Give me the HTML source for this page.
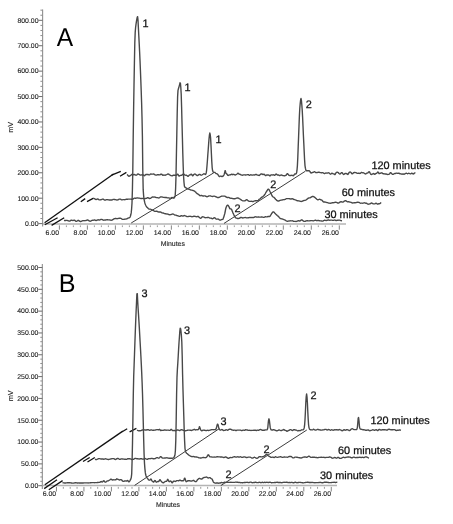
<!DOCTYPE html>
<html><head><meta charset="utf-8"><title>Chromatograms</title>
<style>
html,body{margin:0;padding:0;background:#fff;}
body{width:453px;height:524px;overflow:hidden;}
svg{display:block;}
text{font-family:"Liberation Sans",Arial,sans-serif;fill:#1a1a1a;text-rendering:geometricPrecision;}
.ax{font-size:6.9px;fill:#262626;stroke:#262626;stroke-width:0.12px;}
.lb{font-size:10.9px;fill:#111;stroke:#111;stroke-width:0.25px;}
.big{font-size:25.8px;fill:#000;}
</style></head><body>
<svg width="453" height="524" viewBox="0 0 453 524">
<rect x="0" y="0" width="453" height="524" fill="#fff"/>
<g id="panelA">
<path d="M42.6 9.5V226.6" stroke="#939393" stroke-width="1.15" fill="none"/>
<path d="M38.5 223.60H42.6M38.5 198.19H42.6M38.5 172.78H42.6M38.5 147.37H42.6M38.5 121.96H42.6M38.5 96.55H42.6M38.5 71.14H42.6M38.5 45.73H42.6M38.5 20.32H42.6" stroke="#6c6c6c" stroke-width="1" fill="none"/>
<path d="M40.4 218.52H42.6M40.4 213.44H42.6M40.4 208.35H42.6M40.4 203.27H42.6M40.4 193.11H42.6M40.4 188.03H42.6M40.4 182.94H42.6M40.4 177.86H42.6M40.4 167.70H42.6M40.4 162.62H42.6M40.4 157.53H42.6M40.4 152.45H42.6M40.4 142.29H42.6M40.4 137.21H42.6M40.4 132.12H42.6M40.4 127.04H42.6M40.4 116.88H42.6M40.4 111.80H42.6M40.4 106.71H42.6M40.4 101.63H42.6M40.4 91.47H42.6M40.4 86.39H42.6M40.4 81.30H42.6M40.4 76.22H42.6M40.4 66.06H42.6M40.4 60.98H42.6M40.4 55.89H42.6M40.4 50.81H42.6M40.4 40.65H42.6M40.4 35.57H42.6M40.4 30.48H42.6M40.4 25.40H42.6M40.4 15.24H42.6M40.4 10.16H42.6" stroke="#8e8e8e" stroke-width="1" fill="none"/>
<text x="38.5" y="225.9" class="ax" text-anchor="end">0.00</text>
<text x="38.5" y="200.5" class="ax" text-anchor="end">100.00</text>
<text x="38.5" y="175.1" class="ax" text-anchor="end">200.00</text>
<text x="38.5" y="149.7" class="ax" text-anchor="end">300.00</text>
<text x="38.5" y="124.3" class="ax" text-anchor="end">400.00</text>
<text x="38.5" y="98.8" class="ax" text-anchor="end">500.00</text>
<text x="38.5" y="73.4" class="ax" text-anchor="end">600.00</text>
<text x="38.5" y="48.0" class="ax" text-anchor="end">700.00</text>
<text x="38.5" y="22.6" class="ax" text-anchor="end">800.00</text>
<text transform="translate(12.7 127.3) rotate(-90)" class="ax" style="font-size:7.3px" text-anchor="middle">mV</text>
<path d="M42.9 224.1H346" stroke="#b4b4b4" stroke-width="1.5" fill="none"/>
<path d="M59.40 225.4V229.7M87.39 225.4V229.7M115.38 225.4V229.7M143.37 225.4V229.7M171.36 225.4V229.7M199.35 225.4V229.7M227.34 225.4V229.7M255.33 225.4V229.7M283.32 225.4V229.7M311.31 225.4V229.7M339.30 225.4V229.7" stroke="#777" stroke-width="0.9" fill="none"/>
<path d="M66.40 225.4V227.1M73.39 225.4V227.1M80.39 225.4V227.1M94.39 225.4V227.1M101.38 225.4V227.1M108.38 225.4V227.1M122.38 225.4V227.1M129.38 225.4V227.1M136.37 225.4V227.1M150.37 225.4V227.1M157.36 225.4V227.1M164.36 225.4V227.1M178.36 225.4V227.1M185.35 225.4V227.1M192.35 225.4V227.1M206.35 225.4V227.1M213.34 225.4V227.1M220.34 225.4V227.1M234.34 225.4V227.1M241.34 225.4V227.1M248.33 225.4V227.1M262.33 225.4V227.1M269.32 225.4V227.1M276.32 225.4V227.1M290.32 225.4V227.1M297.31 225.4V227.1M304.31 225.4V227.1M318.31 225.4V227.1M325.30 225.4V227.1M332.30 225.4V227.1" stroke="#8e8e8e" stroke-width="0.9" fill="none"/>
<text x="59.0" y="235.4" class="ax" text-anchor="end">6.00</text>
<text x="87.0" y="235.4" class="ax" text-anchor="end">8.00</text>
<text x="115.0" y="235.4" class="ax" text-anchor="end">10.00</text>
<text x="143.0" y="235.4" class="ax" text-anchor="end">12.00</text>
<text x="171.0" y="235.4" class="ax" text-anchor="end">14.00</text>
<text x="198.9" y="235.4" class="ax" text-anchor="end">16.00</text>
<text x="226.9" y="235.4" class="ax" text-anchor="end">18.00</text>
<text x="254.9" y="235.4" class="ax" text-anchor="end">20.00</text>
<text x="282.9" y="235.4" class="ax" text-anchor="end">22.00</text>
<text x="310.9" y="235.4" class="ax" text-anchor="end">24.00</text>
<text x="338.9" y="235.4" class="ax" text-anchor="end">26.00</text>
<text x="172.8" y="246.3" class="ax" text-anchor="middle">Minutes</text>
<path d="M44.6 222.8L113.5 174" stroke="#111" stroke-width="1.35" fill="none"/>
<path d="M44.8 224.7L57.6 217.7M51.6 225.4L64.2 217.8M80.8 201.8L85.2 198.6M87 201.6L93.6 198.2M111.6 175.1L120.8 171.3M120 176.2L126.4 172.4" stroke="#111" stroke-width="1.3" fill="none"/>
<path d="M131.2 223L213.8 172.8M224 223.4L305.4 171.2" stroke="#3c3c3c" stroke-width="1" fill="none"/>
<path d="M127.0 174.5 L127.4 174.8 L127.8 175.3 L128.2 175.7 L128.6 176.1 L129.0 176.3 L129.4 176.2 L129.8 175.9 L130.2 175.6 L130.6 175.4 L131.0 175.1 L131.4 174.7 L131.8 174.4 L132.2 174.3 L132.6 174.6 L133.0 174.9 L133.4 174.8 L133.8 174.5 L134.2 174.4 L134.6 174.6 L135.0 174.9 L135.4 175.0 L135.8 175.1 L136.2 175.2 L136.6 175.1 L137.0 174.7 L137.4 174.2 L137.8 174.0 L138.2 174.0 L138.6 174.1 L139.0 174.4 L139.4 174.6 L139.8 174.8 L140.2 175.0 L140.6 175.1 L141.0 175.1 L141.4 174.9 L141.8 174.8 L142.2 174.9 L142.6 175.0 L143.0 174.9 L143.4 175.0 L143.8 175.3 L144.2 175.6 L144.6 175.7 L145.0 175.3 L145.4 174.8 L145.8 174.5 L146.2 174.4 L146.6 174.5 L147.0 174.6 L147.4 174.4 L147.8 174.4 L148.2 174.5 L148.6 174.8 L149.0 174.9 L149.4 174.8 L149.8 174.6 L150.2 174.3 L150.6 174.0 L151.0 174.0 L151.4 174.1 L151.8 174.2 L152.2 174.1 L152.6 174.1 L153.0 174.1 L153.4 174.0 L153.8 174.0 L154.2 174.2 L154.6 174.6 L155.0 174.8 L155.4 174.9 L155.8 175.1 L156.2 175.2 L156.6 175.0 L157.0 174.8 L157.4 174.6 L157.8 174.7 L158.2 174.8 L158.6 174.8 L159.0 174.8 L159.4 174.9 L159.8 174.9 L160.2 174.7 L160.6 174.4 L161.0 174.1 L161.4 174.1 L161.8 174.3 L162.2 174.8 L162.6 175.2 L163.0 175.4 L163.4 175.2 L163.8 175.0 L164.2 175.1 L164.6 175.2 L165.0 175.3 L165.4 175.1 L165.8 174.9 L166.2 174.8 L166.6 174.7 L167.0 174.5 L167.4 174.2 L167.8 174.0 L168.2 174.0 L168.6 174.1 L169.0 174.4 L169.4 174.7 L169.8 175.0 L170.2 175.2 L170.6 175.4 L171.0 175.6 L171.4 175.7 L171.8 175.8 L172.2 175.9 L172.6 175.7 L173.0 175.4 L173.4 175.2 L173.8 175.2 L174.2 175.3 L174.6 175.3 L175.0 175.3 L175.4 175.2 L175.8 175.2 L176.2 175.2 L176.6 175.1 L177.0 174.6 L177.4 174.2 L177.8 174.2 L178.2 174.7 L178.6 175.6 L179.0 176.1 L179.4 176.0 L179.8 175.7 L180.2 175.5 L180.6 175.4 L181.0 175.3 L181.4 175.2 L181.8 175.2 L182.2 175.0 L182.6 174.6 L183.0 174.2 L183.4 174.0 L183.8 174.2 L184.2 174.4 L184.6 174.8 L185.0 175.1 L185.4 175.2 L185.8 175.3 L186.2 175.3 L186.6 175.3 L187.0 175.5 L187.4 175.9 L187.8 176.3 L188.2 176.3 L188.6 175.9 L189.0 175.4 L189.4 175.0 L189.8 174.9 L190.2 174.9 L190.6 174.6 L191.0 174.2 L191.4 174.1 L191.8 174.6 L192.2 175.4 L192.6 175.8 L193.0 175.6 L193.4 175.0 L193.8 174.5 L194.2 174.2 L194.6 174.1 L195.0 174.0 L195.4 174.2 L195.8 174.5 L196.2 174.9 L196.6 175.2 L197.0 175.5 L197.4 175.6 L197.8 175.4 L198.2 175.1 L198.6 174.8 L199.0 174.5 L199.4 174.4 L199.8 174.4 L200.2 174.6 L200.6 174.9 L201.0 175.1 L201.4 175.2 L201.8 175.0 L202.2 174.8 L202.6 174.5 L203.0 174.3 L203.4 174.0 L203.8 173.8 L204.2 173.8 L204.6 174.0 L205.0 174.3 L205.4 174.5 L205.8 174.0 L206.2 172.9 L206.6 170.3 L207.0 165.8 L207.4 160.7 L207.8 155.0 L208.2 149.7 L208.6 144.4 L209.0 139.1 L209.4 135.2 L209.8 133.0 L210.2 134.5 L210.6 137.9 L211.0 145.3 L211.4 153.8 L211.8 161.9 L212.2 168.0 L212.6 170.6 L213.0 171.7 L213.4 172.2 L213.8 172.4 L214.2 172.4 L214.6 172.3 L215.0 172.4 L215.4 172.9 L215.8 173.3 L216.2 173.6 L216.6 173.7 L217.0 173.8 L217.4 174.1 L217.8 174.5 L218.2 175.0 L218.6 175.7 L219.0 176.3 L219.4 176.6 L219.8 176.5 L220.2 176.2 L220.6 176.1 L221.0 176.2 L221.4 176.4 L221.8 176.5 L222.2 176.5 L222.6 176.4 L223.0 176.2 L223.4 175.8 L223.8 175.1 L224.2 174.2 L224.6 173.0 L225.0 170.8 L225.4 170.8 L225.8 172.8 L226.2 173.5 L226.6 173.7 L227.0 174.2 L227.4 174.7 L227.8 175.3 L228.2 175.5 L228.6 175.3 L229.0 175.1 L229.4 174.9 L229.8 174.9 L230.2 174.8 L230.6 174.8 L231.0 174.6 L231.4 174.3 L231.8 174.1 L232.2 174.4 L232.6 174.7 L233.0 174.6 L233.4 174.4 L233.8 174.3 L234.2 174.5 L234.6 174.8 L235.0 175.0 L235.4 175.0 L235.8 174.8 L236.2 174.5 L236.6 174.3 L237.0 174.0 L237.4 173.7 L237.8 173.3 L238.2 173.3 L238.6 173.7 L239.0 174.1 L239.4 174.2 L239.8 174.2 L240.2 174.3 L240.6 174.6 L241.0 174.8 L241.4 175.0 L241.8 175.1 L242.2 175.2 L242.6 175.2 L243.0 175.0 L243.4 174.9 L243.8 174.9 L244.2 174.9 L244.6 174.8 L245.0 174.9 L245.4 175.0 L245.8 175.0 L246.2 174.9 L246.6 174.9 L247.0 174.8 L247.4 174.7 L247.8 174.6 L248.2 174.6 L248.6 174.7 L249.0 175.1 L249.4 175.4 L249.8 175.3 L250.2 175.0 L250.6 174.8 L251.0 174.8 L251.4 174.9 L251.8 175.1 L252.2 175.1 L252.6 175.1 L253.0 175.0 L253.4 174.9 L253.8 174.9 L254.2 175.0 L254.6 175.0 L255.0 174.8 L255.4 174.6 L255.8 174.4 L256.2 174.4 L256.6 174.6 L257.0 174.9 L257.4 175.1 L257.8 175.1 L258.2 175.1 L258.6 175.3 L259.0 175.5 L259.4 175.4 L259.8 175.0 L260.2 174.6 L260.6 174.2 L261.0 174.0 L261.4 173.9 L261.8 173.9 L262.2 174.1 L262.6 174.4 L263.0 174.6 L263.4 174.5 L263.8 174.2 L264.2 174.2 L264.6 174.5 L265.0 175.2 L265.4 175.6 L265.8 175.6 L266.2 175.3 L266.6 175.0 L267.0 175.0 L267.4 175.0 L267.8 175.0 L268.2 175.0 L268.6 175.0 L269.0 175.2 L269.4 175.6 L269.8 175.9 L270.2 175.8 L270.6 175.3 L271.0 174.9 L271.4 174.8 L271.8 174.9 L272.2 175.0 L272.6 174.9 L273.0 174.8 L273.4 174.7 L273.8 175.0 L274.2 175.3 L274.6 175.4 L275.0 175.1 L275.4 174.6 L275.8 174.2 L276.2 174.0 L276.6 174.3 L277.0 174.7 L277.4 175.0 L277.8 175.0 L278.2 174.9 L278.6 175.0 L279.0 175.3 L279.4 175.6 L279.8 175.6 L280.2 175.4 L280.6 175.2 L281.0 175.1 L281.4 175.0 L281.8 175.1 L282.2 175.3 L282.6 175.5 L283.0 175.6 L283.4 175.6 L283.8 175.7 L284.2 175.9 L284.6 175.9 L285.0 175.7 L285.4 175.5 L285.8 175.4 L286.2 175.1 L286.6 174.5 L287.0 173.9 L287.4 173.7 L287.8 173.9 L288.2 174.3 L288.6 174.9 L289.0 175.3 L289.4 175.5 L289.8 175.4 L290.2 175.5 L290.6 175.6 L291.0 175.5 L291.4 175.3 L291.8 175.2 L292.2 175.3 L292.6 175.6 L293.0 175.7 L293.4 175.7 L293.8 175.4 L294.2 174.7 L294.6 174.1 L295.0 173.9 L295.4 174.0 L295.8 174.0 L296.2 173.6 L296.6 172.8 L297.0 170.2 L297.4 165.6 L297.8 157.5 L298.2 146.6 L298.6 136.6 L299.0 126.0 L299.4 115.9 L299.8 108.2 L300.2 103.6 L300.6 100.0 L301.0 98.5 L301.4 100.4 L301.8 104.6 L302.2 109.7 L302.6 117.1 L303.0 126.0 L303.4 135.2 L303.8 143.4 L304.2 151.9 L304.6 160.0 L305.0 165.6 L305.4 168.2 L305.8 169.9 L306.2 170.6 L306.6 170.8 L307.0 170.8 L307.4 170.7 L307.8 170.7 L308.2 170.7 L308.6 170.7 L309.0 170.7 L309.4 170.9 L309.8 171.4 L310.2 172.0 L310.6 172.6 L311.0 173.0 L311.4 173.0 L311.8 172.8 L312.2 172.6 L312.6 172.4 L313.0 172.4 L313.4 172.3 L313.8 172.0 L314.2 171.7 L314.6 171.7 L315.0 172.0 L315.4 172.3 L315.8 172.6 L316.2 172.7 L316.6 172.6 L317.0 172.5 L317.4 172.5 L317.8 172.4 L318.2 172.3 L318.6 172.1 L319.0 172.1 L319.4 172.3 L319.8 172.5 L320.2 172.6 L320.6 172.6 L321.0 172.7 L321.4 172.9 L321.8 172.9 L322.2 172.7 L322.6 172.6 L323.0 172.7 L323.4 173.0 L323.8 173.3 L324.2 173.5 L324.6 173.6 L325.0 173.4 L325.4 173.2 L325.8 173.0 L326.2 173.0 L326.6 173.1 L327.0 173.1 L327.4 173.1 L327.8 172.9 L328.2 172.8 L328.6 172.8 L329.0 172.9 L329.4 173.3 L329.8 173.7 L330.2 174.0 L330.6 174.2 L331.0 174.0 L331.4 173.6 L331.8 173.2 L332.2 173.2 L332.6 173.5 L333.0 173.8 L333.4 173.9 L333.8 173.9 L334.2 174.1 L334.6 174.5 L335.0 174.5 L335.4 174.0 L335.8 173.2 L336.2 172.6 L336.6 172.3 L337.0 172.2 L337.4 172.2 L337.8 172.3 L338.2 172.5 L338.6 173.0 L339.0 173.5 L339.4 173.8 L339.8 174.0 L340.2 173.9 L340.6 173.6 L341.0 173.1 L341.4 172.7 L341.8 172.6 L342.2 172.8 L342.6 173.3 L343.0 173.9 L343.4 174.4 L343.8 174.5 L344.2 174.2 L344.6 173.8 L345.0 173.5 L345.4 173.5 L345.8 173.5 L346.2 173.5 L346.6 173.6 L347.0 173.9 L347.4 174.3 L347.8 174.5 L348.2 174.1 L348.6 173.4 L349.0 172.7 L349.4 172.2 L349.8 172.1 L350.2 172.0 L350.6 172.2 L351.0 172.5 L351.4 173.1 L351.8 173.7 L352.2 173.9 L352.6 173.7 L353.0 173.2 L353.4 172.9 L353.8 172.6 L354.2 172.5 L354.6 172.4 L355.0 172.5 L355.4 172.6 L355.8 172.6 L356.2 172.7 L356.6 173.0 L357.0 173.3 L357.4 173.4 L357.8 173.3 L358.2 173.3 L358.6 173.3 L359.0 173.3 L359.4 173.3 L359.8 173.5 L360.2 173.4 L360.6 173.1 L361.0 172.7 L361.4 172.4 L361.8 172.5 L362.2 172.7 L362.6 172.8 L363.0 172.8 L363.4 172.8 L363.8 173.0 L364.2 173.2 L364.6 173.5 L365.0 173.8 L365.4 174.0 L365.8 173.9 L366.2 173.5 L366.6 173.2 L367.0 173.1 L367.4 173.1 L367.8 172.9 L368.2 172.5 L368.6 172.0 L369.0 171.7 L369.4 171.9 L369.8 172.5 L370.2 173.3 L370.6 174.0 L371.0 174.4 L371.4 174.5 L371.8 174.4 L372.2 174.2 L372.6 174.0 L373.0 173.7 L373.4 173.5 L373.8 173.6 L374.2 173.9 L374.6 174.3 L375.0 174.3 L375.4 174.0 L375.8 173.6 L376.2 173.4 L376.6 173.3 L377.0 172.9 L377.4 172.3 L377.8 172.0 L378.2 172.2 L378.6 172.9 L379.0 173.5 L379.4 173.6 L379.8 173.3 L380.2 173.2 L380.6 173.2 L381.0 173.0 L381.4 172.9 L381.8 172.8 L382.2 173.1 L382.6 173.5 L383.0 173.8 L383.4 173.8 L383.8 173.8 L384.2 173.8 L384.6 173.9 L385.0 174.0 L385.4 174.0 L385.8 174.0 L386.2 174.0 L386.6 174.1 L387.0 174.3 L387.4 174.4 L387.8 174.5 L388.2 174.4 L388.6 174.4 L389.0 174.3 L389.4 174.0 L389.8 173.5 L390.2 172.9 L390.6 172.6 L391.0 172.8 L391.4 173.3 L391.8 173.7 L392.2 174.1 L392.6 174.3 L393.0 174.4 L393.4 174.3 L393.8 174.0 L394.2 173.7 L394.6 173.5 L395.0 173.5 L395.4 173.5 L395.8 173.4 L396.2 173.2 L396.6 173.1 L397.0 173.1 L397.4 173.3 L397.8 173.4 L398.2 173.4 L398.6 173.2 L399.0 173.2 L399.4 173.4 L399.8 173.8 L400.2 173.9 L400.6 173.8 L401.0 173.8 L401.4 174.0 L401.8 174.2 L402.2 174.2 L402.6 174.0 L403.0 173.9 L403.4 174.0 L403.8 174.3 L404.2 174.3 L404.6 174.0 L405.0 173.7 L405.4 173.5 L405.8 173.5 L406.2 173.3 L406.6 173.3 L407.0 173.5 L407.4 173.7 L407.8 173.7 L408.2 173.5 L408.6 173.3 L409.0 173.3 L409.4 173.5 L409.8 173.7 L410.2 173.8 L410.6 173.9 L411.0 173.7 L411.4 173.4 L411.8 173.2 L412.2 173.3 L412.6 173.6 L413.0 173.9 L413.4 174.0 L413.8 173.8 L414.2 173.3 L414.6 173.0 L415.0 173.0 L415.4 173.3" fill="none" stroke="#484848" stroke-width="1.38" stroke-linejoin="round"/>
<path d="M93.6 198.4 L94.0 198.5 L94.4 198.7 L94.8 198.9 L95.2 199.2 L95.6 199.4 L96.0 199.5 L96.4 199.5 L96.8 199.3 L97.2 199.1 L97.6 199.0 L98.0 199.0 L98.4 199.3 L98.8 199.6 L99.2 199.8 L99.6 199.9 L100.0 199.9 L100.4 199.8 L100.8 199.8 L101.2 199.7 L101.6 199.6 L102.0 199.4 L102.4 199.2 L102.8 199.1 L103.2 199.2 L103.6 199.4 L104.0 199.7 L104.4 200.0 L104.8 200.1 L105.2 200.1 L105.6 200.0 L106.0 199.9 L106.4 199.7 L106.8 199.6 L107.2 199.6 L107.6 199.7 L108.0 199.7 L108.4 199.8 L108.8 199.9 L109.2 200.0 L109.6 200.0 L110.0 200.0 L110.4 200.0 L110.8 200.0 L111.2 200.0 L111.6 200.0 L112.0 200.0 L112.4 199.8 L112.8 199.6 L113.2 199.4 L113.6 199.4 L114.0 199.4 L114.4 199.5 L114.8 199.5 L115.2 199.6 L115.6 199.7 L116.0 199.8 L116.4 199.9 L116.8 200.0 L117.2 200.0 L117.6 199.9 L118.0 199.8 L118.4 199.6 L118.8 199.4 L119.2 199.2 L119.6 199.1 L120.0 199.1 L120.4 199.2 L120.8 199.4 L121.2 199.6 L121.6 199.8 L122.0 199.9 L122.4 199.8 L122.8 199.7 L123.2 199.6 L123.6 199.6 L124.0 199.6 L124.4 199.7 L124.8 199.7 L125.2 199.6 L125.6 199.5 L126.0 199.3 L126.4 199.3 L126.8 199.3 L127.2 199.3 L127.6 199.3 L128.0 199.2 L128.4 199.1 L128.8 199.1 L129.2 199.1 L129.6 199.1 L130.0 199.1 L130.4 199.1 L130.8 199.1 L131.2 199.2 L131.6 199.2 L132.0 199.3 L132.4 199.3 L132.8 199.2 L133.2 198.9 L133.6 198.6 L134.0 198.4 L134.4 198.2 L134.8 198.1 L135.2 198.2 L135.6 198.2 L136.0 198.2 L136.4 198.1 L136.8 198.0 L137.2 197.9 L137.6 197.9 L138.0 198.0 L138.4 198.1 L138.8 198.1 L139.2 198.1 L139.6 198.2 L140.0 198.3 L140.4 198.4 L140.8 198.5 L141.2 198.6 L141.6 198.5 L142.0 198.5 L142.4 198.4 L142.8 198.4 L143.2 198.5 L143.6 198.6 L144.0 198.6 L144.4 198.6 L144.8 198.6 L145.2 198.5 L145.6 198.5 L146.0 198.4 L146.4 198.3 L146.8 198.1 L147.2 197.9 L147.6 197.7 L148.0 197.7 L148.4 197.8 L148.8 198.1 L149.2 198.4 L149.6 198.5 L150.0 198.5 L150.4 198.3 L150.8 198.1 L151.2 197.8 L151.6 197.5 L152.0 197.2 L152.4 197.0 L152.8 196.9 L153.2 197.0 L153.6 197.1 L154.0 197.1 L154.4 197.1 L154.8 197.0 L155.2 197.1 L155.6 197.3 L156.0 197.5 L156.4 197.6 L156.8 197.6 L157.2 197.6 L157.6 197.7 L158.0 197.8 L158.4 197.9 L158.8 198.0 L159.2 197.8 L159.6 197.6 L160.0 197.3 L160.4 197.0 L160.8 196.9 L161.2 196.9 L161.6 196.9 L162.0 197.0 L162.4 197.1 L162.8 197.2 L163.2 197.3 L163.6 197.4 L164.0 197.4 L164.4 197.4 L164.8 197.5 L165.2 197.5 L165.6 197.5 L166.0 197.5 L166.4 197.5 L166.8 197.6 L167.2 197.8 L167.6 197.9 L168.0 197.9 L168.4 197.8 L168.8 197.9 L169.2 198.0 L169.6 198.2 L170.0 198.3 L170.4 198.2 L170.8 198.0 L171.2 197.8 L171.6 197.6 L172.0 197.5 L172.4 197.6 L172.8 197.7 L173.2 198.0 L173.6 198.2 L174.0 198.1 L174.4 197.7 L174.8 196.8 L175.2 195.4 L175.6 188.7 L176.0 176.2 L176.4 155.0 L176.8 134.8 L177.2 113.6 L177.6 96.9 L178.0 90.4 L178.4 88.8 L178.8 87.5 L179.2 86.1 L179.6 84.6 L180.0 82.8 L180.4 83.0 L180.8 87.2 L181.2 94.0 L181.6 106.9 L182.0 122.7 L182.4 137.7 L182.8 153.5 L183.2 166.2 L183.6 176.7 L184.0 182.5 L184.4 186.1 L184.8 187.0 L185.2 187.4 L185.6 187.7 L186.0 187.9 L186.4 188.1 L186.8 188.3 L187.2 188.6 L187.6 188.8 L188.0 189.0 L188.4 189.1 L188.8 189.2 L189.2 189.2 L189.6 189.4 L190.0 189.6 L190.4 189.8 L190.8 190.0 L191.2 190.1 L191.6 190.1 L192.0 190.2 L192.4 190.3 L192.8 190.4 L193.2 190.6 L193.6 190.7 L194.0 190.9 L194.4 191.1 L194.8 191.3 L195.2 191.7 L195.6 192.0 L196.0 192.5 L196.4 192.9 L196.8 193.4 L197.2 193.7 L197.6 193.9 L198.0 194.1 L198.4 194.3 L198.8 194.6 L199.2 195.1 L199.6 195.5 L200.0 195.8 L200.4 195.7 L200.8 195.5 L201.2 195.4 L201.6 195.4 L202.0 195.6 L202.4 195.8 L202.8 196.0 L203.2 196.0 L203.6 196.0 L204.0 195.9 L204.4 195.9 L204.8 195.9 L205.2 196.0 L205.6 196.1 L206.0 196.4 L206.4 196.5 L206.8 196.7 L207.2 196.7 L207.6 196.6 L208.0 196.4 L208.4 196.1 L208.8 196.0 L209.2 195.9 L209.6 195.9 L210.0 195.9 L210.4 195.9 L210.8 196.0 L211.2 196.2 L211.6 196.3 L212.0 196.4 L212.4 196.5 L212.8 196.4 L213.2 196.3 L213.6 196.2 L214.0 196.1 L214.4 196.2 L214.8 196.3 L215.2 196.5 L215.6 196.6 L216.0 196.8 L216.4 196.9 L216.8 197.2 L217.2 197.4 L217.6 197.6 L218.0 197.6 L218.4 197.5 L218.8 197.5 L219.2 197.4 L219.6 197.2 L220.0 197.0 L220.4 196.7 L220.8 196.5 L221.2 196.3 L221.6 196.1 L222.0 196.1 L222.4 196.1 L222.8 196.1 L223.2 196.1 L223.6 196.1 L224.0 196.1 L224.4 196.1 L224.8 196.2 L225.2 196.4 L225.6 196.6 L226.0 196.9 L226.4 197.2 L226.8 197.4 L227.2 197.5 L227.6 197.5 L228.0 197.4 L228.4 197.4 L228.8 197.5 L229.2 197.6 L229.6 197.9 L230.0 198.1 L230.4 198.2 L230.8 198.2 L231.2 198.3 L231.6 198.3 L232.0 198.4 L232.4 198.5 L232.8 198.6 L233.2 198.7 L233.6 198.8 L234.0 198.8 L234.4 198.8 L234.8 198.8 L235.2 198.7 L235.6 198.6 L236.0 198.4 L236.4 198.2 L236.8 198.1 L237.2 198.0 L237.6 197.9 L238.0 198.0 L238.4 198.1 L238.8 198.3 L239.2 198.6 L239.6 198.8 L240.0 199.0 L240.4 199.3 L240.8 199.6 L241.2 199.9 L241.6 200.2 L242.0 200.5 L242.4 200.7 L242.8 200.8 L243.2 200.9 L243.6 200.9 L244.0 200.9 L244.4 200.9 L244.8 200.9 L245.2 200.7 L245.6 200.4 L246.0 200.0 L246.4 199.7 L246.8 199.7 L247.2 199.9 L247.6 200.3 L248.0 200.6 L248.4 200.9 L248.8 201.1 L249.2 201.3 L249.6 201.4 L250.0 201.4 L250.4 201.4 L250.8 201.3 L251.2 201.3 L251.6 201.3 L252.0 201.4 L252.4 201.5 L252.8 201.6 L253.2 201.5 L253.6 201.4 L254.0 201.2 L254.4 201.0 L254.8 200.8 L255.2 200.7 L255.6 200.7 L256.0 200.7 L256.4 200.7 L256.8 200.8 L257.2 200.8 L257.6 200.8 L258.0 200.6 L258.4 200.2 L258.8 199.7 L259.2 199.3 L259.6 199.0 L260.0 198.8 L260.4 198.5 L260.8 198.1 L261.2 197.7 L261.6 197.4 L262.0 197.1 L262.4 196.8 L262.8 196.6 L263.2 196.3 L263.6 196.0 L264.0 195.5 L264.4 195.0 L264.8 194.5 L265.2 193.8 L265.6 193.0 L266.0 192.3 L266.4 191.7 L266.8 191.1 L267.2 190.5 L267.6 189.8 L268.0 189.3 L268.4 189.1 L268.8 189.3 L269.2 189.9 L269.6 190.7 L270.0 191.5 L270.4 192.2 L270.8 193.0 L271.2 193.9 L271.6 194.8 L272.0 195.7 L272.4 196.3 L272.8 196.7 L273.2 197.0 L273.6 197.2 L274.0 197.4 L274.4 197.8 L274.8 198.2 L275.2 198.7 L275.6 199.2 L276.0 199.6 L276.4 200.0 L276.8 200.4 L277.2 200.7 L277.6 200.9 L278.0 201.0 L278.4 201.1 L278.8 200.9 L279.2 200.8 L279.6 200.6 L280.0 200.4 L280.4 200.3 L280.8 200.2 L281.2 200.1 L281.6 200.1 L282.0 200.0 L282.4 199.9 L282.8 199.8 L283.2 199.6 L283.6 199.6 L284.0 199.6 L284.4 199.6 L284.8 199.5 L285.2 199.3 L285.6 199.1 L286.0 198.8 L286.4 198.7 L286.8 198.6 L287.2 198.6 L287.6 198.6 L288.0 198.6 L288.4 198.6 L288.8 198.6 L289.2 198.7 L289.6 198.7 L290.0 198.8 L290.4 199.0 L290.8 199.0 L291.2 199.0 L291.6 198.9 L292.0 198.7 L292.4 198.7 L292.8 198.8 L293.2 199.1 L293.6 199.4 L294.0 199.5 L294.4 199.6 L294.8 199.7 L295.2 199.8 L295.6 200.0 L296.0 200.2 L296.4 200.4 L296.8 200.6 L297.2 200.7 L297.6 200.7 L298.0 200.7 L298.4 200.8 L298.8 200.9 L299.2 201.0 L299.6 201.1 L300.0 201.2 L300.4 201.3 L300.8 201.4 L301.2 201.5 L301.6 201.4 L302.0 201.3 L302.4 201.1 L302.8 200.9 L303.2 200.8 L303.6 200.6 L304.0 200.5 L304.4 200.4 L304.8 200.4 L305.2 200.3 L305.6 200.2 L306.0 200.0 L306.4 199.7 L306.8 199.4 L307.2 199.0 L307.6 198.7 L308.0 198.4 L308.4 198.1 L308.8 198.0 L309.2 197.9 L309.6 197.9 L310.0 197.9 L310.4 197.7 L310.8 197.4 L311.2 197.1 L311.6 196.8 L312.0 196.6 L312.4 196.4 L312.8 196.4 L313.2 196.5 L313.6 196.6 L314.0 196.8 L314.4 197.1 L314.8 197.4 L315.2 197.7 L315.6 198.1 L316.0 198.4 L316.4 198.8 L316.8 199.2 L317.2 199.5 L317.6 199.8 L318.0 199.9 L318.4 199.7 L318.8 199.5 L319.2 199.3 L319.6 199.3 L320.0 199.4 L320.4 199.6 L320.8 199.8 L321.2 199.9 L321.6 200.0 L322.0 200.3 L322.4 200.7 L322.8 201.3 L323.2 201.7 L323.6 202.0 L324.0 202.0 L324.4 202.0 L324.8 202.0 L325.2 202.0 L325.6 202.2 L326.0 202.3 L326.4 202.4 L326.8 202.5 L327.2 202.6 L327.6 202.7 L328.0 202.8 L328.4 203.0 L328.8 203.1 L329.2 203.1 L329.6 203.2 L330.0 203.3 L330.4 203.3 L330.8 203.2 L331.2 203.1 L331.6 203.0 L332.0 202.8 L332.4 202.8 L332.8 202.7 L333.2 202.7 L333.6 202.7 L334.0 202.6 L334.4 202.5 L334.8 202.4 L335.2 202.3 L335.6 202.3 L336.0 202.3 L336.4 202.4 L336.8 202.5 L337.2 202.7 L337.6 203.0 L338.0 203.1 L338.4 203.1 L338.8 202.9 L339.2 202.7 L339.6 202.4 L340.0 202.1 L340.4 201.8 L340.8 201.7 L341.2 201.7 L341.6 201.9 L342.0 202.0 L342.4 202.1 L342.8 202.1 L343.2 202.0 L343.6 201.7 L344.0 201.4 L344.4 201.0 L344.8 200.8 L345.2 200.7 L345.6 200.7 L346.0 200.8 L346.4 201.1 L346.8 201.5 L347.2 201.7 L347.6 201.9 L348.0 201.8 L348.4 201.8 L348.8 201.8 L349.2 201.9 L349.6 202.0 L350.0 202.1 L350.4 202.2 L350.8 202.3 L351.2 202.4 L351.6 202.6 L352.0 202.8 L352.4 203.0 L352.8 203.0 L353.2 202.9 L353.6 202.8 L354.0 202.7 L354.4 202.7 L354.8 202.7 L355.2 202.7 L355.6 202.7 L356.0 202.6 L356.4 202.5 L356.8 202.4 L357.2 202.3 L357.6 202.3 L358.0 202.3 L358.4 202.3 L358.8 202.4 L359.2 202.5 L359.6 202.7 L360.0 203.0 L360.4 203.2 L360.8 203.3 L361.2 203.2 L361.6 203.1 L362.0 203.1 L362.4 203.2 L362.8 203.3 L363.2 203.2 L363.6 203.0 L364.0 202.8 L364.4 202.8 L364.8 202.9 L365.2 203.0 L365.6 203.2 L366.0 203.2 L366.4 203.2 L366.8 203.4 L367.2 203.7 L367.6 204.0 L368.0 204.2 L368.4 204.2 L368.8 204.1 L369.2 204.0 L369.6 203.9 L370.0 203.8 L370.4 203.6 L370.8 203.3 L371.2 203.1 L371.6 203.0 L372.0 203.1 L372.4 203.4 L372.8 203.6 L373.2 203.8 L373.6 203.9 L374.0 203.9 L374.4 203.9 L374.8 203.8 L375.2 203.6 L375.6 203.3 L376.0 203.2 L376.4 203.3 L376.8 203.6 L377.2 204.0 L377.6 204.2 L378.0 204.1 L378.4 203.9 L378.8 203.7 L379.2 203.7 L379.6 203.7 L380.0 203.6 L380.4 203.2 L380.8 202.8 L381.2 202.4" fill="none" stroke="#484848" stroke-width="1.38" stroke-linejoin="round"/>
<path d="M64.0 220.4 L64.4 220.5 L64.8 220.5 L65.2 220.5 L65.6 220.5 L66.0 220.4 L66.4 220.4 L66.8 220.4 L67.2 220.5 L67.6 220.6 L68.0 220.7 L68.4 220.8 L68.8 221.0 L69.2 221.1 L69.6 221.1 L70.0 221.0 L70.4 220.7 L70.8 220.4 L71.2 220.2 L71.6 220.2 L72.0 220.3 L72.4 220.4 L72.8 220.5 L73.2 220.5 L73.6 220.3 L74.0 220.2 L74.4 220.2 L74.8 220.4 L75.2 220.7 L75.6 221.1 L76.0 221.3 L76.4 221.4 L76.8 221.2 L77.2 221.0 L77.6 220.7 L78.0 220.4 L78.4 220.3 L78.8 220.5 L79.2 220.9 L79.6 221.2 L80.0 221.4 L80.4 221.5 L80.8 221.5 L81.2 221.4 L81.6 221.2 L82.0 221.0 L82.4 220.8 L82.8 220.6 L83.2 220.6 L83.6 220.7 L84.0 220.8 L84.4 220.7 L84.8 220.6 L85.2 220.6 L85.6 220.6 L86.0 220.5 L86.4 220.4 L86.8 220.2 L87.2 220.0 L87.6 220.0 L88.0 220.1 L88.4 220.4 L88.8 220.7 L89.2 220.9 L89.6 221.1 L90.0 221.2 L90.4 221.2 L90.8 221.0 L91.2 220.8 L91.6 220.6 L92.0 220.4 L92.4 220.3 L92.8 220.3 L93.2 220.3 L93.6 220.2 L94.0 220.0 L94.4 220.0 L94.8 220.0 L95.2 220.2 L95.6 220.4 L96.0 220.5 L96.4 220.5 L96.8 220.3 L97.2 220.1 L97.6 219.9 L98.0 219.8 L98.4 219.8 L98.8 220.0 L99.2 220.1 L99.6 220.0 L100.0 219.8 L100.4 219.6 L100.8 219.5 L101.2 219.4 L101.6 219.4 L102.0 219.5 L102.4 219.7 L102.8 219.9 L103.2 220.1 L103.6 220.2 L104.0 220.2 L104.4 220.1 L104.8 220.0 L105.2 220.0 L105.6 220.0 L106.0 219.9 L106.4 219.8 L106.8 219.7 L107.2 219.7 L107.6 219.7 L108.0 219.8 L108.4 219.9 L108.8 219.9 L109.2 219.9 L109.6 219.9 L110.0 220.0 L110.4 220.1 L110.8 220.2 L111.2 220.2 L111.6 220.2 L112.0 220.1 L112.4 219.9 L112.8 219.6 L113.2 219.4 L113.6 219.2 L114.0 218.9 L114.4 218.7 L114.8 218.6 L115.2 218.5 L115.6 218.4 L116.0 218.5 L116.4 218.6 L116.8 218.7 L117.2 218.7 L117.6 218.6 L118.0 218.5 L118.4 218.4 L118.8 218.3 L119.2 218.3 L119.6 218.3 L120.0 218.2 L120.4 218.2 L120.8 218.3 L121.2 218.5 L121.6 218.8 L122.0 219.1 L122.4 219.3 L122.8 219.4 L123.2 219.4 L123.6 219.4 L124.0 219.3 L124.4 219.3 L124.8 219.2 L125.2 219.1 L125.6 219.1 L126.0 219.0 L126.4 218.9 L126.8 218.8 L127.2 218.6 L127.6 218.4 L128.0 218.2 L128.4 218.0 L128.8 217.9 L129.2 217.8 L129.6 217.7 L130.0 217.1 L130.4 216.2 L130.8 214.8 L131.2 212.9 L131.6 209.0 L132.0 203.0 L132.4 190.3 L132.8 170.0 L133.2 137.8 L133.6 109.7 L134.0 85.5 L134.4 63.2 L134.8 43.0 L135.2 32.4 L135.6 27.5 L136.0 24.3 L136.4 21.7 L136.8 19.3 L137.2 17.4 L137.6 16.6 L138.0 20.1 L138.4 27.9 L138.8 35.8 L139.2 43.4 L139.6 51.5 L140.0 60.3 L140.4 69.7 L140.8 80.0 L141.2 90.7 L141.6 102.6 L142.0 116.9 L142.4 135.9 L142.8 170.7 L143.2 189.9 L143.6 195.4 L144.0 198.8 L144.4 201.0 L144.8 202.7 L145.2 204.0 L145.6 205.0 L146.0 205.8 L146.4 206.5 L146.8 207.0 L147.2 207.4 L147.6 207.8 L148.0 208.2 L148.4 208.6 L148.8 208.9 L149.2 209.1 L149.6 209.2 L150.0 209.1 L150.4 209.2 L150.8 209.3 L151.2 209.5 L151.6 209.7 L152.0 209.9 L152.4 210.1 L152.8 210.3 L153.2 210.5 L153.6 210.7 L154.0 211.0 L154.4 211.2 L154.8 211.4 L155.2 211.4 L155.6 211.3 L156.0 211.2 L156.4 211.2 L156.8 211.2 L157.2 211.4 L157.6 211.6 L158.0 211.8 L158.4 212.0 L158.8 212.0 L159.2 212.0 L159.6 212.0 L160.0 211.9 L160.4 212.0 L160.8 212.1 L161.2 212.3 L161.6 212.6 L162.0 212.8 L162.4 212.9 L162.8 213.0 L163.2 213.0 L163.6 213.1 L164.0 213.3 L164.4 213.5 L164.8 213.7 L165.2 213.7 L165.6 213.7 L166.0 213.8 L166.4 213.9 L166.8 214.0 L167.2 214.0 L167.6 214.1 L168.0 214.2 L168.4 214.4 L168.8 214.6 L169.2 214.7 L169.6 214.8 L170.0 214.8 L170.4 214.7 L170.8 214.6 L171.2 214.5 L171.6 214.3 L172.0 214.2 L172.4 214.1 L172.8 214.0 L173.2 214.1 L173.6 214.2 L174.0 214.5 L174.4 214.8 L174.8 215.0 L175.2 215.1 L175.6 215.1 L176.0 215.2 L176.4 215.4 L176.8 215.6 L177.2 215.7 L177.6 215.8 L178.0 215.8 L178.4 216.0 L178.8 216.2 L179.2 216.4 L179.6 216.4 L180.0 216.3 L180.4 216.1 L180.8 215.8 L181.2 215.7 L181.6 215.7 L182.0 215.8 L182.4 216.0 L182.8 216.1 L183.2 216.0 L183.6 215.9 L184.0 215.7 L184.4 215.5 L184.8 215.6 L185.2 215.8 L185.6 216.0 L186.0 216.2 L186.4 216.4 L186.8 216.5 L187.2 216.6 L187.6 216.6 L188.0 216.6 L188.4 216.5 L188.8 216.4 L189.2 216.4 L189.6 216.3 L190.0 216.2 L190.4 216.3 L190.8 216.4 L191.2 216.5 L191.6 216.7 L192.0 216.8 L192.4 216.7 L192.8 216.6 L193.2 216.5 L193.6 216.3 L194.0 216.3 L194.4 216.2 L194.8 216.3 L195.2 216.4 L195.6 216.5 L196.0 216.7 L196.4 216.8 L196.8 216.7 L197.2 216.6 L197.6 216.4 L198.0 216.4 L198.4 216.5 L198.8 216.9 L199.2 217.3 L199.6 217.7 L200.0 218.0 L200.4 218.2 L200.8 218.2 L201.2 217.9 L201.6 217.5 L202.0 217.1 L202.4 216.8 L202.8 216.7 L203.2 216.8 L203.6 217.0 L204.0 217.2 L204.4 217.4 L204.8 217.6 L205.2 217.7 L205.6 217.7 L206.0 217.6 L206.4 217.6 L206.8 217.6 L207.2 217.5 L207.6 217.5 L208.0 217.4 L208.4 217.4 L208.8 217.5 L209.2 217.8 L209.6 218.0 L210.0 218.1 L210.4 218.2 L210.8 218.1 L211.2 218.2 L211.6 218.4 L212.0 218.6 L212.4 218.8 L212.8 218.7 L213.2 218.5 L213.6 218.1 L214.0 217.8 L214.4 217.7 L214.8 217.8 L215.2 218.2 L215.6 218.6 L216.0 218.9 L216.4 219.1 L216.8 219.2 L217.2 219.1 L217.6 219.1 L218.0 219.0 L218.4 219.2 L218.8 219.4 L219.2 219.7 L219.6 220.0 L220.0 220.2 L220.4 220.1 L220.8 220.0 L221.2 219.7 L221.6 219.6 L222.0 219.5 L222.4 219.4 L222.8 219.3 L223.2 218.6 L223.6 217.6 L224.0 216.3 L224.4 214.9 L224.8 213.5 L225.2 211.5 L225.6 209.3 L226.0 207.8 L226.4 206.8 L226.8 205.9 L227.2 205.3 L227.6 205.1 L228.0 205.3 L228.4 205.8 L228.8 206.4 L229.2 207.3 L229.6 208.3 L230.0 208.8 L230.4 208.9 L230.8 208.9 L231.2 209.1 L231.6 209.5 L232.0 210.4 L232.4 211.4 L232.8 212.5 L233.2 213.4 L233.6 214.3 L234.0 215.1 L234.4 215.9 L234.8 216.7 L235.2 217.3 L235.6 217.7 L236.0 218.0 L236.4 218.1 L236.8 218.2 L237.2 218.4 L237.6 218.5 L238.0 218.5 L238.4 218.5 L238.8 218.4 L239.2 218.4 L239.6 218.2 L240.0 217.9 L240.4 217.6 L240.8 217.4 L241.2 217.4 L241.6 217.6 L242.0 217.7 L242.4 217.9 L242.8 218.0 L243.2 217.9 L243.6 217.8 L244.0 217.7 L244.4 217.6 L244.8 217.6 L245.2 217.5 L245.6 217.6 L246.0 217.7 L246.4 217.8 L246.8 217.9 L247.2 217.9 L247.6 217.8 L248.0 217.7 L248.4 217.7 L248.8 217.7 L249.2 217.6 L249.6 217.5 L250.0 217.5 L250.4 217.5 L250.8 217.6 L251.2 217.6 L251.6 217.5 L252.0 217.5 L252.4 217.5 L252.8 217.6 L253.2 217.6 L253.6 217.5 L254.0 217.4 L254.4 217.1 L254.8 216.9 L255.2 216.8 L255.6 216.8 L256.0 216.9 L256.4 217.0 L256.8 217.1 L257.2 217.1 L257.6 217.1 L258.0 217.0 L258.4 217.0 L258.8 217.0 L259.2 217.1 L259.6 217.1 L260.0 217.1 L260.4 217.1 L260.8 217.1 L261.2 217.0 L261.6 217.0 L262.0 217.0 L262.4 217.1 L262.8 217.2 L263.2 217.3 L263.6 217.4 L264.0 217.4 L264.4 217.2 L264.8 217.0 L265.2 216.7 L265.6 216.7 L266.0 216.8 L266.4 216.9 L266.8 216.9 L267.2 216.8 L267.6 216.6 L268.0 216.5 L268.4 216.5 L268.8 216.5 L269.2 216.5 L269.6 216.5 L270.0 216.2 L270.4 215.7 L270.8 215.0 L271.2 214.3 L271.6 213.7 L272.0 213.1 L272.4 212.5 L272.8 212.1 L273.2 211.9 L273.6 211.9 L274.0 212.2 L274.4 212.6 L274.8 213.1 L275.2 213.6 L275.6 214.0 L276.0 214.3 L276.4 214.7 L276.8 215.1 L277.2 215.5 L277.6 215.8 L278.0 216.1 L278.4 216.4 L278.8 216.8 L279.2 217.4 L279.6 217.9 L280.0 218.2 L280.4 218.5 L280.8 218.7 L281.2 218.7 L281.6 218.8 L282.0 218.9 L282.4 219.0 L282.8 219.2 L283.2 219.3 L283.6 219.4 L284.0 219.6 L284.4 219.8 L284.8 220.0 L285.2 220.2 L285.6 220.4 L286.0 220.7 L286.4 221.0 L286.8 221.2 L287.2 221.3 L287.6 221.3 L288.0 221.2 L288.4 221.1 L288.8 221.0 L289.2 221.0 L289.6 220.9 L290.0 220.9 L290.4 220.8 L290.8 220.8 L291.2 220.9 L291.6 220.9 L292.0 220.8 L292.4 220.8 L292.8 220.9 L293.2 221.1 L293.6 221.3 L294.0 221.4 L294.4 221.4 L294.8 221.4 L295.2 221.4 L295.6 221.4 L296.0 221.5 L296.4 221.4 L296.8 221.3 L297.2 221.1 L297.6 220.9 L298.0 220.8 L298.4 220.7 L298.8 220.7 L299.2 220.9 L299.6 221.0 L300.0 221.0 L300.4 220.7 L300.8 220.3 L301.2 220.0 L301.6 219.8 L302.0 219.9 L302.4 220.2 L302.8 220.6 L303.2 221.0 L303.6 221.2 L304.0 221.4 L304.4 221.4 L304.8 221.4 L305.2 221.3 L305.6 221.1 L306.0 220.9 L306.4 220.8 L306.8 220.7 L307.2 220.7 L307.6 220.8 L308.0 220.8 L308.4 220.9 L308.8 220.9 L309.2 220.9 L309.6 220.8 L310.0 220.7 L310.4 220.7 L310.8 220.6 L311.2 220.6 L311.6 220.6 L312.0 220.6 L312.4 220.7 L312.8 220.8 L313.2 220.9 L313.6 220.9 L314.0 220.7 L314.4 220.5 L314.8 220.3 L315.2 220.2 L315.6 220.2 L316.0 220.4 L316.4 220.6 L316.8 220.7 L317.2 220.6 L317.6 220.5 L318.0 220.4 L318.4 220.4 L318.8 220.6 L319.2 220.7 L319.6 220.8 L320.0 220.8 L320.4 220.9 L320.8 220.9 L321.2 220.9 L321.6 221.0 L322.0 221.1 L322.4 221.1 L322.8 221.1 L323.2 220.9 L323.6 220.7 L324.0 220.5 L324.4 220.2 L324.8 220.2 L325.2 220.3 L325.6 220.4 L326.0 220.5 L326.4 220.5 L326.8 220.4 L327.2 220.3 L327.6 220.1 L328.0 220.0 L328.4 220.0 L328.8 220.0 L329.2 220.2 L329.6 220.3 L330.0 220.3 L330.4 220.2 L330.8 220.1 L331.2 220.1 L331.6 220.1 L332.0 220.2 L332.4 220.3 L332.8 220.4 L333.2 220.4 L333.6 220.3 L334.0 220.2 L334.4 220.1 L334.8 220.0 L335.2 220.2 L335.6 220.4 L336.0 220.5 L336.4 220.5 L336.8 220.4 L337.2 220.3 L337.6 220.3 L338.0 220.2 L338.4 220.2 L338.8 220.1 L339.2 220.1 L339.6 220.2 L340.0 220.3 L340.4 220.4 L340.8 220.6 L341.2 220.7 L341.6 220.7 L342.0 220.8" fill="none" stroke="#484848" stroke-width="1.38" stroke-linejoin="round"/>
<text x="56.8" y="46.1" class="big" textLength="16.4" lengthAdjust="spacingAndGlyphs">A</text>
<text x="142.6" y="27.3" class="lb">1</text>
<text x="184.6" y="90.6" class="lb">1</text>
<text x="215.4" y="142.6" class="lb">1</text>
<text x="305.8" y="108.0" class="lb">2</text>
<text x="270.2" y="188.4" class="lb">2</text>
<text x="234.6" y="211.5" class="lb">2</text>
<text x="371.4" y="168.6" class="lb">120 minutes</text>
<text x="341.8" y="195.6" class="lb">60 minutes</text>
<text x="324.4" y="217.7" class="lb">30 minutes</text>
</g>
<g id="panelB">
<path d="M42.35 264V489" stroke="#939393" stroke-width="1.15" fill="none"/>
<path d="M38.3 485.70H42.35M38.3 463.88H42.35M38.3 442.06H42.35M38.3 420.24H42.35M38.3 398.42H42.35M38.3 376.60H42.35M38.3 354.78H42.35M38.3 332.96H42.35M38.3 311.14H42.35M38.3 289.32H42.35M38.3 267.50H42.35" stroke="#6c6c6c" stroke-width="1" fill="none"/>
<path d="M40.3 481.34H42.35M40.3 476.97H42.35M40.3 472.61H42.35M40.3 468.24H42.35M40.3 459.52H42.35M40.3 455.15H42.35M40.3 450.79H42.35M40.3 446.42H42.35M40.3 437.70H42.35M40.3 433.33H42.35M40.3 428.97H42.35M40.3 424.60H42.35M40.3 415.88H42.35M40.3 411.51H42.35M40.3 407.15H42.35M40.3 402.78H42.35M40.3 394.06H42.35M40.3 389.69H42.35M40.3 385.33H42.35M40.3 380.96H42.35M40.3 372.24H42.35M40.3 367.87H42.35M40.3 363.51H42.35M40.3 359.14H42.35M40.3 350.42H42.35M40.3 346.05H42.35M40.3 341.69H42.35M40.3 337.32H42.35M40.3 328.60H42.35M40.3 324.23H42.35M40.3 319.87H42.35M40.3 315.50H42.35M40.3 306.78H42.35M40.3 302.41H42.35M40.3 298.05H42.35M40.3 293.68H42.35M40.3 284.96H42.35M40.3 280.59H42.35M40.3 276.23H42.35M40.3 271.86H42.35" stroke="#8e8e8e" stroke-width="1" fill="none"/>
<text x="38.3" y="488.0" class="ax" text-anchor="end">0.00</text>
<text x="38.3" y="466.2" class="ax" text-anchor="end">50.00</text>
<text x="38.3" y="444.4" class="ax" text-anchor="end">100.00</text>
<text x="38.3" y="422.5" class="ax" text-anchor="end">150.00</text>
<text x="38.3" y="400.7" class="ax" text-anchor="end">200.00</text>
<text x="38.3" y="378.9" class="ax" text-anchor="end">250.00</text>
<text x="38.3" y="357.1" class="ax" text-anchor="end">300.00</text>
<text x="38.3" y="335.3" class="ax" text-anchor="end">350.00</text>
<text x="38.3" y="313.4" class="ax" text-anchor="end">400.00</text>
<text x="38.3" y="291.6" class="ax" text-anchor="end">450.00</text>
<text x="38.3" y="269.8" class="ax" text-anchor="end">500.00</text>
<text transform="translate(12.7 395.8) rotate(-90)" class="ax" style="font-size:7.3px" text-anchor="middle">mV</text>
<path d="M42.5 485.5H337" stroke="#b4b4b4" stroke-width="1.6" fill="none"/>
<path d="M56.45 486.9V491.5M83.93 486.9V491.5M111.42 486.9V491.5M138.90 486.9V491.5M166.39 486.9V491.5M193.87 486.9V491.5M221.35 486.9V491.5M248.84 486.9V491.5M276.32 486.9V491.5M303.81 486.9V491.5M331.29 486.9V491.5" stroke="#777" stroke-width="0.9" fill="none"/>
<path d="M63.32 486.9V488.8M70.19 486.9V488.8M77.06 486.9V488.8M90.81 486.9V488.8M97.68 486.9V488.8M104.55 486.9V488.8M118.29 486.9V488.8M125.16 486.9V488.8M132.03 486.9V488.8M145.77 486.9V488.8M152.64 486.9V488.8M159.52 486.9V488.8M173.26 486.9V488.8M180.13 486.9V488.8M187.00 486.9V488.8M200.74 486.9V488.8M207.61 486.9V488.8M214.48 486.9V488.8M228.23 486.9V488.8M235.10 486.9V488.8M241.97 486.9V488.8M255.71 486.9V488.8M262.58 486.9V488.8M269.45 486.9V488.8M283.19 486.9V488.8M290.06 486.9V488.8M296.94 486.9V488.8M310.68 486.9V488.8M317.55 486.9V488.8M324.42 486.9V488.8" stroke="#8e8e8e" stroke-width="0.9" fill="none"/>
<text x="56.2" y="496.4" class="ax" text-anchor="end">6.00</text>
<text x="83.6" y="496.4" class="ax" text-anchor="end">8.00</text>
<text x="111.1" y="496.4" class="ax" text-anchor="end">10.00</text>
<text x="138.6" y="496.4" class="ax" text-anchor="end">12.00</text>
<text x="166.1" y="496.4" class="ax" text-anchor="end">14.00</text>
<text x="193.6" y="496.4" class="ax" text-anchor="end">16.00</text>
<text x="221.1" y="496.4" class="ax" text-anchor="end">18.00</text>
<text x="248.5" y="496.4" class="ax" text-anchor="end">20.00</text>
<text x="276.0" y="496.4" class="ax" text-anchor="end">22.00</text>
<text x="303.5" y="496.4" class="ax" text-anchor="end">24.00</text>
<text x="331.0" y="496.4" class="ax" text-anchor="end">26.00</text>
<text x="168" y="507.0" class="ax" text-anchor="middle">Minutes</text>
<path d="M44.8 484.8L122.8 431.1" stroke="#111" stroke-width="1.35" fill="none"/>
<path d="M44.2 488.6L57 479.8M48.8 489.8L62.6 480.6M83 461.5L89.7 457.5M87.5 462L94.8 457.5M122.2 431.8L127.2 428.8M129.6 431.8L136.4 428.4" stroke="#111" stroke-width="1.3" fill="none"/>
<path d="M134.6 485.4L219 428.8M220.8 485.6L306.8 430" stroke="#3c3c3c" stroke-width="1" fill="none"/>
<path d="M137.0 430.1 L137.4 430.3 L137.8 430.5 L138.2 430.7 L138.6 430.8 L139.0 430.8 L139.4 430.8 L139.8 430.7 L140.2 430.7 L140.6 430.7 L141.0 430.6 L141.4 430.4 L141.8 430.2 L142.2 430.0 L142.6 430.0 L143.0 430.0 L143.4 430.2 L143.8 430.2 L144.2 430.0 L144.6 429.8 L145.0 429.9 L145.4 430.0 L145.8 430.1 L146.2 430.1 L146.6 429.8 L147.0 429.7 L147.4 429.7 L147.8 429.8 L148.2 429.8 L148.6 429.8 L149.0 430.0 L149.4 430.3 L149.8 430.3 L150.2 430.2 L150.6 430.0 L151.0 429.9 L151.4 429.9 L151.8 430.0 L152.2 430.2 L152.6 430.3 L153.0 430.2 L153.4 430.2 L153.8 430.2 L154.2 430.2 L154.6 430.1 L155.0 430.1 L155.4 430.0 L155.8 429.9 L156.2 429.8 L156.6 429.7 L157.0 429.6 L157.4 429.6 L157.8 429.7 L158.2 429.9 L158.6 429.9 L159.0 429.5 L159.4 429.3 L159.8 429.5 L160.2 430.0 L160.6 430.5 L161.0 430.5 L161.4 430.4 L161.8 430.2 L162.2 430.3 L162.6 430.4 L163.0 430.3 L163.4 430.3 L163.8 430.2 L164.2 430.0 L164.6 429.9 L165.0 429.9 L165.4 430.1 L165.8 430.2 L166.2 430.1 L166.6 430.2 L167.0 430.2 L167.4 430.1 L167.8 430.1 L168.2 430.1 L168.6 430.2 L169.0 430.3 L169.4 430.4 L169.8 430.4 L170.2 430.2 L170.6 429.7 L171.0 429.4 L171.4 429.4 L171.8 429.7 L172.2 430.2 L172.6 430.6 L173.0 430.7 L173.4 430.6 L173.8 430.5 L174.2 430.4 L174.6 430.5 L175.0 430.6 L175.4 430.8 L175.8 430.8 L176.2 430.5 L176.6 430.2 L177.0 430.0 L177.4 430.0 L177.8 430.0 L178.2 430.1 L178.6 430.2 L179.0 430.4 L179.4 430.6 L179.8 430.6 L180.2 430.3 L180.6 430.0 L181.0 429.7 L181.4 429.7 L181.8 429.7 L182.2 429.9 L182.6 430.1 L183.0 430.2 L183.4 430.3 L183.8 430.4 L184.2 430.5 L184.6 430.7 L185.0 430.8 L185.4 430.8 L185.8 430.8 L186.2 430.7 L186.6 430.5 L187.0 430.3 L187.4 430.2 L187.8 430.2 L188.2 430.1 L188.6 430.1 L189.0 430.1 L189.4 430.1 L189.8 430.2 L190.2 430.2 L190.6 430.2 L191.0 430.4 L191.4 430.5 L191.8 430.4 L192.2 430.2 L192.6 430.0 L193.0 429.9 L193.4 429.8 L193.8 429.5 L194.2 429.3 L194.6 429.4 L195.0 429.7 L195.4 429.9 L195.8 430.0 L196.2 429.8 L196.6 429.7 L197.0 429.6 L197.4 429.7 L197.8 429.8 L198.2 429.7 L198.6 429.1 L199.0 428.0 L199.4 426.6 L199.8 427.2 L200.2 428.8 L200.6 429.7 L201.0 430.3 L201.4 430.6 L201.8 430.8 L202.2 430.6 L202.6 430.4 L203.0 430.1 L203.4 430.1 L203.8 430.2 L204.2 430.2 L204.6 430.2 L205.0 430.3 L205.4 430.4 L205.8 430.6 L206.2 430.6 L206.6 430.5 L207.0 430.4 L207.4 430.3 L207.8 430.3 L208.2 430.4 L208.6 430.5 L209.0 430.5 L209.4 430.3 L209.8 430.2 L210.2 430.1 L210.6 430.0 L211.0 429.8 L211.4 429.6 L211.8 429.6 L212.2 429.6 L212.6 429.6 L213.0 429.7 L213.4 429.7 L213.8 429.6 L214.2 429.6 L214.6 429.6 L215.0 429.6 L215.4 429.6 L215.8 429.5 L216.2 428.6 L216.6 427.3 L217.0 425.4 L217.4 424.2 L217.8 424.1 L218.2 425.3 L218.6 427.1 L219.0 428.6 L219.4 429.4 L219.8 429.9 L220.2 430.1 L220.6 430.1 L221.0 429.9 L221.4 429.7 L221.8 429.5 L222.2 429.6 L222.6 429.9 L223.0 430.2 L223.4 430.5 L223.8 430.5 L224.2 430.4 L224.6 430.4 L225.0 430.3 L225.4 430.1 L225.8 429.9 L226.2 429.7 L226.6 429.8 L227.0 430.0 L227.4 430.2 L227.8 430.2 L228.2 429.9 L228.6 429.5 L229.0 429.3 L229.4 429.3 L229.8 429.3 L230.2 429.2 L230.6 429.2 L231.0 429.4 L231.4 429.6 L231.8 429.9 L232.2 430.0 L232.6 430.1 L233.0 430.2 L233.4 430.3 L233.8 430.3 L234.2 430.2 L234.6 430.1 L235.0 430.2 L235.4 430.4 L235.8 430.6 L236.2 430.6 L236.6 430.3 L237.0 430.1 L237.4 430.1 L237.8 430.1 L238.2 430.1 L238.6 430.1 L239.0 430.1 L239.4 430.1 L239.8 430.1 L240.2 430.1 L240.6 430.2 L241.0 430.4 L241.4 430.6 L241.8 430.6 L242.2 430.5 L242.6 430.3 L243.0 430.1 L243.4 430.1 L243.8 430.2 L244.2 430.4 L244.6 430.4 L245.0 430.2 L245.4 429.9 L245.8 429.7 L246.2 429.8 L246.6 429.9 L247.0 430.0 L247.4 430.0 L247.8 430.1 L248.2 430.3 L248.6 430.4 L249.0 430.4 L249.4 430.3 L249.8 430.3 L250.2 430.4 L250.6 430.4 L251.0 430.5 L251.4 430.4 L251.8 430.4 L252.2 430.4 L252.6 430.4 L253.0 430.4 L253.4 430.3 L253.8 430.3 L254.2 430.3 L254.6 430.3 L255.0 430.2 L255.4 430.2 L255.8 430.4 L256.2 430.5 L256.6 430.5 L257.0 430.2 L257.4 430.1 L257.8 430.2 L258.2 430.4 L258.6 430.3 L259.0 430.1 L259.4 429.9 L259.8 429.7 L260.2 429.6 L260.6 429.5 L261.0 429.6 L261.4 429.8 L261.8 430.1 L262.2 430.2 L262.6 430.2 L263.0 430.2 L263.4 430.2 L263.8 430.3 L264.2 430.3 L264.6 430.1 L265.0 430.0 L265.4 429.9 L265.8 429.9 L266.2 429.9 L266.6 429.9 L267.0 429.9 L267.4 429.3 L267.8 427.8 L268.2 423.3 L268.6 419.9 L269.0 418.8 L269.4 420.5 L269.8 423.8 L270.2 427.4 L270.6 428.7 L271.0 429.6 L271.4 429.9 L271.8 430.0 L272.2 430.0 L272.6 430.0 L273.0 429.9 L273.4 429.7 L273.8 429.7 L274.2 429.9 L274.6 430.0 L275.0 430.2 L275.4 430.4 L275.8 430.5 L276.2 430.6 L276.6 430.8 L277.0 430.9 L277.4 430.7 L277.8 430.5 L278.2 430.3 L278.6 430.1 L279.0 429.9 L279.4 430.0 L279.8 430.2 L280.2 430.3 L280.6 430.5 L281.0 430.7 L281.4 430.6 L281.8 430.4 L282.2 430.2 L282.6 430.1 L283.0 429.9 L283.4 429.6 L283.8 429.5 L284.2 429.7 L284.6 430.1 L285.0 430.3 L285.4 430.4 L285.8 430.5 L286.2 430.7 L286.6 431.1 L287.0 431.3 L287.4 431.1 L287.8 430.9 L288.2 430.7 L288.6 430.5 L289.0 430.4 L289.4 430.1 L289.8 429.9 L290.2 429.7 L290.6 429.6 L291.0 429.7 L291.4 430.0 L291.8 430.3 L292.2 430.5 L292.6 430.5 L293.0 430.2 L293.4 429.9 L293.8 429.7 L294.2 429.7 L294.6 429.7 L295.0 429.9 L295.4 430.0 L295.8 430.1 L296.2 430.1 L296.6 430.2 L297.0 430.5 L297.4 430.8 L297.8 430.9 L298.2 430.8 L298.6 430.6 L299.0 430.5 L299.4 430.6 L299.8 430.7 L300.2 430.7 L300.6 430.5 L301.0 430.2 L301.4 429.9 L301.8 429.8 L302.2 429.9 L302.6 429.9 L303.0 429.8 L303.4 429.7 L303.8 429.1 L304.2 427.9 L304.6 425.2 L305.0 419.7 L305.4 412.0 L305.8 402.7 L306.2 396.9 L306.6 393.9 L307.0 396.9 L307.4 402.7 L307.8 411.8 L308.2 419.4 L308.6 425.0 L309.0 427.6 L309.4 428.8 L309.8 429.5 L310.2 429.7 L310.6 429.7 L311.0 429.7 L311.4 429.8 L311.8 429.9 L312.2 429.9 L312.6 429.8 L313.0 429.6 L313.4 429.3 L313.8 429.3 L314.2 429.5 L314.6 429.8 L315.0 430.0 L315.4 430.1 L315.8 430.1 L316.2 429.9 L316.6 429.8 L317.0 429.7 L317.4 429.4 L317.8 429.3 L318.2 429.4 L318.6 429.6 L319.0 429.8 L319.4 429.8 L319.8 429.9 L320.2 430.0 L320.6 430.0 L321.0 430.1 L321.4 430.1 L321.8 430.1 L322.2 430.0 L322.6 429.9 L323.0 429.9 L323.4 429.9 L323.8 429.9 L324.2 429.7 L324.6 429.5 L325.0 429.4 L325.4 429.4 L325.8 429.4 L326.2 429.5 L326.6 429.8 L327.0 430.0 L327.4 430.0 L327.8 429.8 L328.2 429.6 L328.6 429.5 L329.0 429.6 L329.4 429.7 L329.8 430.0 L330.2 430.2 L330.6 430.2 L331.0 430.0 L331.4 429.8 L331.8 429.8 L332.2 429.9 L332.6 430.1 L333.0 430.2 L333.4 430.2 L333.8 430.1 L334.2 429.8 L334.6 429.7 L335.0 429.7 L335.4 429.9 L335.8 429.8 L336.2 429.7 L336.6 429.7 L337.0 429.7 L337.4 429.8 L337.8 430.0 L338.2 430.0 L338.6 429.9 L339.0 429.7 L339.4 429.5 L339.8 429.6 L340.2 429.8 L340.6 430.0 L341.0 430.2 L341.4 430.4 L341.8 430.6 L342.2 430.8 L342.6 430.7 L343.0 430.4 L343.4 430.0 L343.8 429.7 L344.2 429.7 L344.6 429.9 L345.0 430.2 L345.4 430.2 L345.8 430.1 L346.2 429.9 L346.6 429.7 L347.0 429.7 L347.4 429.7 L347.8 429.8 L348.2 430.0 L348.6 430.2 L349.0 430.5 L349.4 430.6 L349.8 430.5 L350.2 430.2 L350.6 429.7 L351.0 429.3 L351.4 429.0 L351.8 428.9 L352.2 428.8 L352.6 428.8 L353.0 429.0 L353.4 429.3 L353.8 429.5 L354.2 429.6 L354.6 429.6 L355.0 429.6 L355.4 429.6 L355.8 429.6 L356.2 429.6 L356.6 429.6 L357.0 428.9 L357.4 427.3 L357.8 422.7 L358.2 418.1 L358.6 417.5 L359.0 420.8 L359.4 426.1 L359.8 428.0 L360.2 429.0 L360.6 429.2 L361.0 429.3 L361.4 429.3 L361.8 429.4 L362.2 429.5 L362.6 429.7 L363.0 429.8 L363.4 429.8 L363.8 429.8 L364.2 429.8 L364.6 429.9 L365.0 430.0 L365.4 430.2 L365.8 430.2 L366.2 430.2 L366.6 430.2 L367.0 430.2 L367.4 430.1 L367.8 430.0 L368.2 429.9 L368.6 430.1 L369.0 430.4 L369.4 430.7 L369.8 430.8 L370.2 430.7 L370.6 430.5 L371.0 430.4 L371.4 430.3 L371.8 430.2 L372.2 430.0 L372.6 429.8 L373.0 429.8 L373.4 429.9 L373.8 430.1 L374.2 430.2 L374.6 430.2 L375.0 430.2 L375.4 430.0 L375.8 429.7 L376.2 429.6 L376.6 429.8 L377.0 430.2 L377.4 430.6 L377.8 430.6 L378.2 430.3 L378.6 429.8 L379.0 429.4 L379.4 429.4 L379.8 429.6 L380.2 429.8 L380.6 430.0 L381.0 430.0 L381.4 430.0 L381.8 429.9 L382.2 429.8 L382.6 429.8 L383.0 429.8 L383.4 429.8 L383.8 429.8 L384.2 429.8 L384.6 429.7 L385.0 429.7 L385.4 429.8 L385.8 429.9 L386.2 429.9 L386.6 430.1 L387.0 430.2 L387.4 430.1 L387.8 429.7 L388.2 429.4 L388.6 429.3 L389.0 429.3 L389.4 429.3 L389.8 429.5 L390.2 429.6 L390.6 429.7 L391.0 429.7 L391.4 429.8 L391.8 429.8 L392.2 429.8 L392.6 429.8 L393.0 429.8 L393.4 429.7 L393.8 429.6 L394.2 429.6 L394.6 429.7 L395.0 429.8 L395.4 430.1 L395.8 430.4 L396.2 430.5 L396.6 430.5 L397.0 430.3 L397.4 430.2 L397.8 430.2 L398.2 430.2 L398.6 430.2 L399.0 430.1 L399.4 430.0 L399.8 429.9 L400.2 430.0 L400.6 430.2 L401.0 430.3" fill="none" stroke="#484848" stroke-width="1.38" stroke-linejoin="round"/>
<path d="M95.0 459.2 L95.4 459.4 L95.8 459.6 L96.2 459.6 L96.6 459.6 L97.0 459.4 L97.4 459.2 L97.8 459.0 L98.2 458.8 L98.6 458.6 L99.0 458.6 L99.4 458.6 L99.8 458.7 L100.2 458.8 L100.6 458.9 L101.0 459.0 L101.4 459.0 L101.8 459.0 L102.2 459.0 L102.6 458.9 L103.0 459.0 L103.4 459.1 L103.8 459.3 L104.2 459.2 L104.6 459.1 L105.0 458.9 L105.4 458.8 L105.8 458.8 L106.2 459.0 L106.6 459.1 L107.0 459.2 L107.4 459.3 L107.8 459.4 L108.2 459.5 L108.6 459.5 L109.0 459.4 L109.4 459.3 L109.8 459.2 L110.2 459.1 L110.6 459.0 L111.0 458.9 L111.4 458.8 L111.8 458.8 L112.2 458.7 L112.6 458.6 L113.0 458.6 L113.4 458.6 L113.8 458.7 L114.2 458.9 L114.6 459.2 L115.0 459.4 L115.4 459.5 L115.8 459.4 L116.2 459.2 L116.6 458.9 L117.0 458.6 L117.4 458.4 L117.8 458.4 L118.2 458.5 L118.6 458.7 L119.0 459.0 L119.4 459.3 L119.8 459.4 L120.2 459.3 L120.6 459.1 L121.0 459.0 L121.4 458.9 L121.8 458.8 L122.2 458.9 L122.6 459.0 L123.0 459.0 L123.4 459.1 L123.8 459.1 L124.2 459.2 L124.6 459.3 L125.0 459.3 L125.4 459.3 L125.8 459.3 L126.2 459.4 L126.6 459.3 L127.0 459.1 L127.4 458.9 L127.8 458.7 L128.2 458.7 L128.6 458.8 L129.0 458.8 L129.4 458.8 L129.8 458.8 L130.2 458.8 L130.6 459.0 L131.0 459.2 L131.4 459.4 L131.8 459.5 L132.2 459.5 L132.6 459.4 L133.0 459.4 L133.4 459.3 L133.8 459.1 L134.2 458.8 L134.6 458.6 L135.0 458.4 L135.4 458.4 L135.8 458.4 L136.2 458.6 L136.6 458.7 L137.0 458.7 L137.4 458.7 L137.8 458.7 L138.2 458.8 L138.6 458.9 L139.0 459.0 L139.4 459.0 L139.8 458.9 L140.2 458.8 L140.6 458.8 L141.0 458.8 L141.4 458.8 L141.8 458.8 L142.2 459.0 L142.6 459.1 L143.0 459.2 L143.4 459.1 L143.8 459.0 L144.2 458.8 L144.6 458.6 L145.0 458.5 L145.4 458.6 L145.8 458.8 L146.2 459.0 L146.6 459.2 L147.0 459.3 L147.4 459.3 L147.8 459.1 L148.2 458.9 L148.6 458.7 L149.0 458.6 L149.4 458.6 L149.8 458.7 L150.2 458.7 L150.6 458.6 L151.0 458.5 L151.4 458.4 L151.8 458.4 L152.2 458.4 L152.6 458.6 L153.0 458.7 L153.4 458.7 L153.8 458.8 L154.2 458.8 L154.6 458.7 L155.0 458.6 L155.4 458.5 L155.8 458.2 L156.2 458.0 L156.6 457.7 L157.0 457.6 L157.4 457.6 L157.8 457.8 L158.2 458.0 L158.6 458.2 L159.0 458.1 L159.4 457.8 L159.8 457.4 L160.2 456.9 L160.6 456.6 L161.0 456.7 L161.4 457.0 L161.8 457.5 L162.2 457.9 L162.6 458.1 L163.0 458.1 L163.4 458.1 L163.8 458.1 L164.2 458.1 L164.6 458.0 L165.0 458.0 L165.4 458.0 L165.8 457.9 L166.2 457.9 L166.6 457.8 L167.0 457.8 L167.4 457.9 L167.8 458.0 L168.2 458.1 L168.6 458.2 L169.0 458.2 L169.4 458.2 L169.8 458.2 L170.2 458.2 L170.6 458.2 L171.0 458.2 L171.4 458.2 L171.8 458.2 L172.2 458.2 L172.6 458.2 L173.0 458.1 L173.4 457.9 L173.8 457.6 L174.2 457.0 L174.6 456.1 L175.0 454.7 L175.4 450.5 L175.8 440.1 L176.2 419.6 L176.6 394.2 L177.0 377.1 L177.4 369.1 L177.8 363.2 L178.2 356.5 L178.6 349.4 L179.0 342.8 L179.4 337.2 L179.8 331.5 L180.2 328.1 L180.6 328.6 L181.0 331.4 L181.4 335.8 L181.8 341.8 L182.2 355.8 L182.6 375.0 L183.0 390.3 L183.4 403.2 L183.8 416.2 L184.2 430.0 L184.6 440.7 L185.0 448.5 L185.4 450.9 L185.8 452.0 L186.2 452.8 L186.6 453.2 L187.0 453.5 L187.4 453.8 L187.8 454.2 L188.2 454.6 L188.6 455.0 L189.0 455.2 L189.4 455.5 L189.8 455.7 L190.2 456.0 L190.6 456.2 L191.0 456.4 L191.4 456.5 L191.8 456.6 L192.2 456.7 L192.6 456.6 L193.0 456.5 L193.4 456.5 L193.8 456.6 L194.2 456.7 L194.6 456.9 L195.0 457.0 L195.4 456.9 L195.8 456.9 L196.2 457.0 L196.6 457.0 L197.0 457.1 L197.4 457.2 L197.8 457.3 L198.2 457.5 L198.6 457.6 L199.0 457.8 L199.4 457.9 L199.8 457.9 L200.2 458.0 L200.6 458.0 L201.0 458.0 L201.4 457.9 L201.8 457.8 L202.2 457.7 L202.6 457.6 L203.0 457.5 L203.4 457.5 L203.8 457.5 L204.2 457.6 L204.6 457.6 L205.0 457.7 L205.4 457.7 L205.8 457.6 L206.2 457.4 L206.6 457.1 L207.0 456.6 L207.4 456.0 L207.8 455.3 L208.2 454.8 L208.6 454.9 L209.0 455.5 L209.4 456.2 L209.8 456.7 L210.2 456.9 L210.6 456.9 L211.0 456.9 L211.4 456.9 L211.8 457.0 L212.2 457.1 L212.6 457.1 L213.0 457.1 L213.4 457.1 L213.8 457.1 L214.2 457.0 L214.6 457.1 L215.0 457.1 L215.4 457.1 L215.8 457.1 L216.2 457.0 L216.6 456.8 L217.0 456.7 L217.4 456.7 L217.8 456.8 L218.2 456.8 L218.6 456.9 L219.0 456.9 L219.4 456.9 L219.8 456.9 L220.2 457.0 L220.6 457.0 L221.0 457.0 L221.4 457.0 L221.8 457.0 L222.2 457.0 L222.6 457.2 L223.0 457.3 L223.4 457.5 L223.8 457.5 L224.2 457.5 L224.6 457.3 L225.0 457.1 L225.4 456.9 L225.8 456.9 L226.2 457.1 L226.6 457.3 L227.0 457.6 L227.4 457.9 L227.8 458.2 L228.2 458.3 L228.6 458.3 L229.0 458.1 L229.4 457.9 L229.8 457.7 L230.2 457.6 L230.6 457.5 L231.0 457.6 L231.4 457.6 L231.8 457.6 L232.2 457.5 L232.6 457.4 L233.0 457.2 L233.4 457.0 L233.8 456.8 L234.2 456.7 L234.6 456.6 L235.0 456.8 L235.4 457.0 L235.8 457.1 L236.2 457.1 L236.6 457.1 L237.0 456.9 L237.4 456.8 L237.8 456.7 L238.2 456.9 L238.6 457.1 L239.0 457.1 L239.4 457.1 L239.8 456.9 L240.2 456.8 L240.6 456.8 L241.0 457.0 L241.4 457.2 L241.8 457.4 L242.2 457.4 L242.6 457.4 L243.0 457.2 L243.4 457.1 L243.8 456.9 L244.2 456.9 L244.6 456.9 L245.0 457.0 L245.4 457.2 L245.8 457.4 L246.2 457.5 L246.6 457.6 L247.0 457.5 L247.4 457.4 L247.8 457.3 L248.2 457.2 L248.6 457.1 L249.0 457.1 L249.4 457.1 L249.8 457.1 L250.2 457.2 L250.6 457.3 L251.0 457.5 L251.4 457.8 L251.8 458.0 L252.2 458.1 L252.6 458.1 L253.0 458.0 L253.4 457.7 L253.8 457.5 L254.2 457.3 L254.6 457.3 L255.0 457.5 L255.4 457.7 L255.8 458.0 L256.2 458.2 L256.6 458.3 L257.0 458.3 L257.4 458.1 L257.8 457.9 L258.2 457.6 L258.6 457.2 L259.0 456.9 L259.4 456.6 L259.8 456.6 L260.2 456.6 L260.6 456.8 L261.0 456.8 L261.4 456.9 L261.8 456.9 L262.2 456.8 L262.6 456.8 L263.0 456.7 L263.4 456.6 L263.8 456.4 L264.2 456.1 L264.6 455.8 L265.0 455.5 L265.4 455.2 L265.8 454.8 L266.2 454.5 L266.6 454.3 L267.0 454.5 L267.4 454.8 L267.8 455.3 L268.2 455.7 L268.6 456.0 L269.0 456.3 L269.4 456.4 L269.8 456.6 L270.2 456.8 L270.6 457.1 L271.0 457.3 L271.4 457.4 L271.8 457.4 L272.2 457.2 L272.6 457.1 L273.0 457.1 L273.4 457.3 L273.8 457.5 L274.2 457.5 L274.6 457.4 L275.0 457.0 L275.4 456.8 L275.8 456.8 L276.2 457.0 L276.6 457.2 L277.0 457.3 L277.4 457.4 L277.8 457.3 L278.2 457.2 L278.6 457.1 L279.0 457.0 L279.4 456.9 L279.8 456.9 L280.2 456.8 L280.6 456.8 L281.0 456.8 L281.4 457.0 L281.8 457.2 L282.2 457.4 L282.6 457.4 L283.0 457.3 L283.4 457.2 L283.8 457.1 L284.2 457.0 L284.6 457.0 L285.0 457.1 L285.4 457.1 L285.8 457.1 L286.2 457.1 L286.6 457.1 L287.0 457.2 L287.4 457.3 L287.8 457.2 L288.2 457.0 L288.6 456.7 L289.0 456.5 L289.4 456.5 L289.8 456.5 L290.2 456.5 L290.6 456.5 L291.0 456.5 L291.4 456.6 L291.8 457.0 L292.2 457.3 L292.6 457.7 L293.0 457.9 L293.4 457.9 L293.8 457.8 L294.2 457.6 L294.6 457.3 L295.0 457.2 L295.4 457.1 L295.8 457.1 L296.2 457.2 L296.6 457.3 L297.0 457.3 L297.4 457.3 L297.8 457.4 L298.2 457.6 L298.6 457.6 L299.0 457.7 L299.4 457.7 L299.8 457.7 L300.2 457.8 L300.6 458.0 L301.0 458.0 L301.4 458.0 L301.8 457.8 L302.2 457.6 L302.6 457.4 L303.0 457.3 L303.4 457.2 L303.8 457.1 L304.2 457.0 L304.6 457.0 L305.0 457.0 L305.4 457.0 L305.8 457.1 L306.2 457.2 L306.6 457.2 L307.0 457.2 L307.4 457.1 L307.8 456.8 L308.2 456.5 L308.6 456.2 L309.0 456.2 L309.4 456.3 L309.8 456.6 L310.2 457.0 L310.6 457.3 L311.0 457.4 L311.4 457.4 L311.8 457.3 L312.2 457.2 L312.6 457.2 L313.0 457.2 L313.4 457.2 L313.8 457.2 L314.2 457.2 L314.6 457.2 L315.0 457.3 L315.4 457.4 L315.8 457.5 L316.2 457.5 L316.6 457.5 L317.0 457.6 L317.4 457.7 L317.8 457.7 L318.2 457.6 L318.6 457.5 L319.0 457.4 L319.4 457.4 L319.8 457.4 L320.2 457.4 L320.6 457.3 L321.0 457.3 L321.4 457.3 L321.8 457.3 L322.2 457.4 L322.6 457.4 L323.0 457.3 L323.4 457.3 L323.8 457.4 L324.2 457.4 L324.6 457.5 L325.0 457.6 L325.4 457.6 L325.8 457.5 L326.2 457.4 L326.6 457.4 L327.0 457.4 L327.4 457.4 L327.8 457.4 L328.2 457.4 L328.6 457.3 L329.0 457.1 L329.4 457.0 L329.8 457.0 L330.2 457.1 L330.6 457.2 L331.0 457.4 L331.4 457.6 L331.8 457.9 L332.2 458.1 L332.6 458.2 L333.0 458.2 L333.4 458.0 L333.8 457.8 L334.2 457.6 L334.6 457.5 L335.0 457.5 L335.4 457.7 L335.8 457.9 L336.2 458.1 L336.6 458.2 L337.0 458.0 L337.4 457.7 L337.8 457.4 L338.2 457.3 L338.6 457.5 L339.0 457.8 L339.4 458.1 L339.8 458.4 L340.2 458.4 L340.6 458.4 L341.0 458.3 L341.4 458.1 L341.8 458.0 L342.2 457.8 L342.6 457.5 L343.0 457.3 L343.4 457.2 L343.8 457.3 L344.2 457.5 L344.6 457.6 L345.0 457.6 L345.4 457.5 L345.8 457.4 L346.2 457.3 L346.6 457.2 L347.0 457.1 L347.4 457.1 L347.8 457.0 L348.2 457.0 L348.6 457.0 L349.0 457.0 L349.4 457.1 L349.8 457.1 L350.2 457.2 L350.6 457.4 L351.0 457.6 L351.4 457.8 L351.8 457.8 L352.2 457.8 L352.6 457.6 L353.0 457.4 L353.4 457.2 L353.8 457.1 L354.2 457.2 L354.6 457.3 L355.0 457.5 L355.4 457.6 L355.8 457.7 L356.2 457.6 L356.6 457.5 L357.0 457.5 L357.4 457.5 L357.8 457.5 L358.2 457.5 L358.6 457.4 L359.0 457.4 L359.4 457.3 L359.8 457.3 L360.2 457.3 L360.6 457.4 L361.0 457.5 L361.4 457.5 L361.8 457.4 L362.2 457.3 L362.6 457.3 L363.0 457.4 L363.4 457.6 L363.8 457.6 L364.2 457.5 L364.6 457.3 L365.0 457.0 L365.4 456.9 L365.8 456.9 L366.2 456.9 L366.6 457.0 L367.0 457.1 L367.4 457.3 L367.8 457.5 L368.2 457.8 L368.6 458.0 L369.0 458.1" fill="none" stroke="#484848" stroke-width="1.38" stroke-linejoin="round"/>
<path d="M62.5 482.8 L62.9 482.8 L63.3 482.8 L63.7 482.9 L64.1 482.9 L64.5 483.0 L64.9 482.9 L65.3 483.0 L65.7 483.0 L66.1 482.9 L66.5 482.9 L66.9 482.8 L67.3 482.8 L67.7 482.8 L68.1 482.8 L68.5 482.7 L68.9 482.7 L69.3 482.7 L69.7 482.7 L70.1 482.7 L70.5 482.8 L70.9 482.9 L71.3 483.0 L71.7 483.0 L72.1 483.1 L72.5 483.1 L72.9 483.1 L73.3 483.1 L73.7 483.1 L74.1 483.0 L74.5 482.9 L74.9 482.8 L75.3 482.8 L75.7 482.7 L76.1 482.7 L76.5 482.8 L76.9 482.9 L77.3 483.0 L77.7 483.0 L78.1 483.0 L78.5 482.9 L78.9 482.9 L79.3 483.0 L79.7 483.0 L80.1 483.0 L80.5 483.0 L80.9 483.0 L81.3 483.0 L81.7 483.0 L82.1 483.0 L82.5 483.0 L82.9 483.0 L83.3 483.0 L83.7 482.9 L84.1 482.9 L84.5 482.9 L84.9 482.9 L85.3 482.9 L85.7 482.9 L86.1 482.9 L86.5 482.9 L86.9 482.9 L87.3 482.9 L87.7 482.9 L88.1 483.0 L88.5 482.9 L88.9 482.9 L89.3 482.9 L89.7 482.9 L90.1 482.8 L90.5 482.8 L90.9 482.7 L91.3 482.7 L91.7 482.6 L92.1 482.6 L92.5 482.6 L92.9 482.6 L93.3 482.6 L93.7 482.6 L94.1 482.7 L94.5 482.7 L94.9 482.6 L95.3 482.6 L95.7 482.6 L96.1 482.6 L96.5 482.6 L96.9 482.6 L97.3 482.5 L97.7 482.5 L98.1 482.5 L98.5 482.4 L98.9 482.4 L99.3 482.4 L99.7 482.4 L100.1 482.2 L100.5 481.9 L100.9 481.6 L101.3 481.5 L101.7 481.7 L102.1 482.0 L102.5 481.9 L102.9 481.5 L103.3 481.0 L103.7 480.7 L104.1 480.9 L104.5 481.5 L104.9 482.0 L105.3 482.2 L105.7 482.0 L106.1 481.8 L106.5 481.6 L106.9 481.2 L107.3 480.9 L107.7 480.9 L108.1 480.9 L108.5 480.8 L108.9 480.5 L109.3 480.2 L109.7 480.0 L110.1 479.7 L110.5 479.3 L110.9 479.1 L111.3 479.2 L111.7 479.5 L112.1 479.9 L112.5 480.0 L112.9 479.9 L113.3 479.7 L113.7 479.8 L114.1 479.9 L114.5 479.9 L114.9 479.8 L115.3 479.8 L115.7 479.8 L116.1 479.6 L116.5 479.1 L116.9 478.8 L117.3 479.0 L117.7 479.3 L118.1 479.4 L118.5 479.5 L118.9 479.7 L119.3 480.0 L119.7 480.0 L120.1 479.8 L120.5 479.6 L120.9 479.6 L121.3 479.7 L121.7 480.0 L122.1 480.5 L122.5 481.0 L122.9 481.3 L123.3 481.4 L123.7 481.3 L124.1 481.1 L124.5 481.0 L124.9 481.0 L125.3 480.9 L125.7 480.9 L126.1 481.0 L126.5 481.1 L126.9 480.9 L127.3 480.6 L127.7 480.5 L128.1 480.9 L128.5 481.5 L128.9 481.9 L129.3 481.7 L129.7 481.1 L130.1 480.4 L130.5 479.7 L130.9 478.9 L131.3 477.3 L131.7 473.9 L132.1 460.7 L132.5 442.9 L132.9 419.6 L133.3 394.4 L133.7 376.3 L134.1 365.3 L134.5 354.2 L134.9 342.7 L135.3 331.7 L135.7 321.4 L136.1 311.7 L136.5 302.8 L136.9 293.8 L137.3 293.6 L137.7 301.3 L138.1 308.3 L138.5 314.4 L138.9 320.7 L139.3 327.4 L139.7 334.5 L140.1 341.7 L140.5 348.9 L140.9 356.2 L141.3 364.1 L141.7 372.6 L142.1 382.3 L142.5 393.6 L142.9 407.5 L143.3 423.8 L143.7 440.2 L144.1 454.5 L144.5 463.4 L144.9 468.6 L145.3 472.4 L145.7 474.8 L146.1 476.0 L146.5 476.9 L146.9 477.6 L147.3 478.2 L147.7 478.6 L148.1 479.2 L148.5 479.7 L148.9 480.1 L149.3 480.2 L149.7 480.1 L150.1 479.9 L150.5 479.3 L150.9 479.0 L151.3 479.5 L151.7 480.4 L152.1 481.0 L152.5 481.3 L152.9 481.6 L153.3 482.0 L153.7 482.0 L154.1 481.5 L154.5 480.8 L154.9 480.5 L155.3 480.7 L155.7 481.4 L156.1 482.0 L156.5 482.2 L156.9 482.0 L157.3 481.7 L157.7 481.5 L158.1 481.5 L158.5 481.6 L158.9 481.3 L159.3 480.7 L159.7 479.9 L160.1 479.7 L160.5 480.3 L160.9 480.9 L161.3 481.3 L161.7 481.7 L162.1 482.2 L162.5 482.5 L162.9 482.8 L163.3 482.8 L163.7 482.6 L164.1 482.3 L164.5 482.0 L164.9 481.7 L165.3 481.4 L165.7 481.4 L166.1 481.4 L166.5 481.4 L166.9 480.9 L167.3 479.9 L167.7 479.3 L168.1 479.7 L168.5 480.7 L168.9 481.4 L169.3 481.7 L169.7 481.5 L170.1 481.2 L170.5 481.0 L170.9 481.1 L171.3 481.6 L171.7 482.4 L172.1 482.9 L172.5 482.7 L172.9 482.0 L173.3 481.4 L173.7 481.1 L174.1 481.1 L174.5 481.1 L174.9 481.3 L175.3 481.5 L175.7 481.4 L176.1 481.0 L176.5 480.7 L176.9 480.6 L177.3 480.6 L177.7 480.6 L178.1 480.7 L178.5 480.7 L178.9 480.7 L179.3 480.4 L179.7 480.2 L180.1 480.1 L180.5 480.4 L180.9 480.7 L181.3 480.8 L181.7 480.8 L182.1 480.8 L182.5 480.8 L182.9 480.8 L183.3 480.8 L183.7 480.4 L184.1 479.3 L184.5 478.1 L184.9 478.2 L185.3 479.5 L185.7 480.8 L186.1 481.6 L186.5 481.7 L186.9 481.4 L187.3 481.1 L187.7 480.8 L188.1 480.8 L188.5 480.8 L188.9 480.8 L189.3 480.7 L189.7 480.7 L190.1 480.8 L190.5 481.0 L190.9 481.1 L191.3 481.1 L191.7 481.0 L192.1 480.9 L192.5 480.8 L192.9 480.5 L193.3 480.3 L193.7 480.4 L194.1 480.7 L194.5 481.1 L194.9 481.3 L195.3 481.6 L195.7 481.7 L196.1 481.6 L196.5 481.3 L196.9 480.7 L197.3 480.0 L197.7 479.5 L198.1 479.2 L198.5 478.9 L198.9 478.5 L199.3 478.3 L199.7 478.5 L200.1 478.7 L200.5 478.9 L200.9 478.9 L201.3 479.0 L201.7 479.0 L202.1 478.9 L202.5 478.5 L202.9 478.1 L203.3 477.8 L203.7 477.6 L204.1 477.5 L204.5 477.4 L204.9 477.4 L205.3 477.3 L205.7 477.2 L206.1 477.1 L206.5 477.0 L206.9 477.2 L207.3 477.5 L207.7 477.8 L208.1 478.0 L208.5 478.0 L208.9 477.8 L209.3 477.7 L209.7 477.6 L210.1 477.7 L210.5 478.1 L210.9 478.5 L211.3 478.7 L211.7 478.8 L212.1 479.2 L212.5 479.9 L212.9 480.9 L213.3 481.8 L213.7 482.4 L214.1 482.6 L214.5 482.8 L214.9 483.0 L215.3 483.2 L215.7 483.1 L216.1 483.0 L216.5 483.0 L216.9 483.0 L217.3 483.0 L217.7 483.0 L218.1 483.0 L218.5 483.2 L218.9 483.2 L219.3 483.1 L219.7 483.0 L220.1 483.1 L220.5 483.0 L220.9 482.7 L221.3 482.5 L221.7 482.5 L222.1 482.7 L222.5 482.8 L222.9 482.8 L223.3 482.7 L223.7 482.5 L224.1 482.3 L224.5 482.2 L224.9 482.2 L225.3 482.4 L225.7 482.5 L226.1 482.4 L226.5 482.4 L226.9 482.3 L227.3 482.2 L227.7 482.2 L228.1 482.2 L228.5 482.3 L228.9 482.4 L229.3 482.4 L229.7 482.4 L230.1 482.4 L230.5 482.3 L230.9 482.3 L231.3 482.3 L231.7 482.4 L232.1 482.4 L232.5 482.4 L232.9 482.4 L233.3 482.4 L233.7 482.4 L234.1 482.4 L234.5 482.4 L234.9 482.3 L235.3 482.2 L235.7 482.1 L236.1 482.1 L236.5 482.2 L236.9 482.2 L237.3 482.3 L237.7 482.3 L238.1 482.3 L238.5 482.4 L238.9 482.5 L239.3 482.4 L239.7 482.4 L240.1 482.5 L240.5 482.7 L240.9 482.8 L241.3 482.7 L241.7 482.6 L242.1 482.7 L242.5 482.7 L242.9 482.7 L243.3 482.6 L243.7 482.6 L244.1 482.5 L244.5 482.5 L244.9 482.5 L245.3 482.5 L245.7 482.4 L246.1 482.4 L246.5 482.4 L246.9 482.3 L247.3 482.3 L247.7 482.4 L248.1 482.5 L248.5 482.6 L248.9 482.6 L249.3 482.5 L249.7 482.3 L250.1 482.2 L250.5 482.1 L250.9 482.2 L251.3 482.4 L251.7 482.5 L252.1 482.6 L252.5 482.7 L252.9 482.7 L253.3 482.6 L253.7 482.5 L254.1 482.5 L254.5 482.5 L254.9 482.4 L255.3 482.2 L255.7 482.2 L256.1 482.3 L256.5 482.5 L256.9 482.6 L257.3 482.6 L257.7 482.6 L258.1 482.6 L258.5 482.5 L258.9 482.4 L259.3 482.3 L259.7 482.3 L260.1 482.4 L260.5 482.6 L260.9 482.7 L261.3 482.6 L261.7 482.5 L262.1 482.3 L262.5 482.3 L262.9 482.5 L263.3 482.6 L263.7 482.6 L264.1 482.5 L264.5 482.3 L264.9 482.3 L265.3 482.4 L265.7 482.5 L266.1 482.4 L266.5 482.3 L266.9 482.2 L267.3 482.3 L267.7 482.4 L268.1 482.5 L268.5 482.5 L268.9 482.4 L269.3 482.3 L269.7 482.2 L270.1 482.2 L270.5 482.3 L270.9 482.5 L271.3 482.7 L271.7 482.7 L272.1 482.7 L272.5 482.6 L272.9 482.6 L273.3 482.6 L273.7 482.6 L274.1 482.6 L274.5 482.5 L274.9 482.5 L275.3 482.5 L275.7 482.5 L276.1 482.4 L276.5 482.3 L276.9 482.2 L277.3 482.2 L277.7 482.4 L278.1 482.5 L278.5 482.5 L278.9 482.5 L279.3 482.5 L279.7 482.5 L280.1 482.5 L280.5 482.5 L280.9 482.6 L281.3 482.7 L281.7 482.7 L282.1 482.6 L282.5 482.6 L282.9 482.4 L283.3 482.4 L283.7 482.3 L284.1 482.3 L284.5 482.3 L284.9 482.4 L285.3 482.4 L285.7 482.3 L286.1 482.3 L286.5 482.2 L286.9 482.3 L287.3 482.3 L287.7 482.5 L288.1 482.6 L288.5 482.6 L288.9 482.5 L289.3 482.5 L289.7 482.5 L290.1 482.6 L290.5 482.6 L290.9 482.5 L291.3 482.4 L291.7 482.3 L292.1 482.4 L292.5 482.6 L292.9 482.7 L293.3 482.8 L293.7 482.8 L294.1 482.6 L294.5 482.5 L294.9 482.3 L295.3 482.3 L295.7 482.3 L296.1 482.5 L296.5 482.6 L296.9 482.7 L297.3 482.7 L297.7 482.6 L298.1 482.5 L298.5 482.5 L298.9 482.4 L299.3 482.4 L299.7 482.4 L300.1 482.4 L300.5 482.4 L300.9 482.5 L301.3 482.6 L301.7 482.6 L302.1 482.7 L302.5 482.8 L302.9 482.8 L303.3 482.9 L303.7 482.8 L304.1 482.7 L304.5 482.6 L304.9 482.6 L305.3 482.5 L305.7 482.4 L306.1 482.4 L306.5 482.4 L306.9 482.4 L307.3 482.2 L307.7 482.2 L308.1 482.2 L308.5 482.3 L308.9 482.5 L309.3 482.5 L309.7 482.5 L310.1 482.5 L310.5 482.5 L310.9 482.5 L311.3 482.5 L311.7 482.4 L312.1 482.4 L312.5 482.4 L312.9 482.5 L313.3 482.6 L313.7 482.6 L314.1 482.6 L314.5 482.7 L314.9 482.7 L315.3 482.7 L315.7 482.6 L316.1 482.6 L316.5 482.6 L316.9 482.6 L317.3 482.6 L317.7 482.6 L318.1 482.6 L318.5 482.6 L318.9 482.5 L319.3 482.5 L319.7 482.4 L320.1 482.3 L320.5 482.4 L320.9 482.5 L321.3 482.6 L321.7 482.7 L322.1 482.7 L322.5 482.7 L322.9 482.7 L323.3 482.6 L323.7 482.5 L324.1 482.3 L324.5 482.3 L324.9 482.3 L325.3 482.3 L325.7 482.3 L326.1 482.3 L326.5 482.3 L326.9 482.3 L327.3 482.3 L327.7 482.4 L328.1 482.5 L328.5 482.5 L328.9 482.6 L329.3 482.6 L329.7 482.6 L330.1 482.6 L330.5 482.6 L330.9 482.6 L331.3 482.6 L331.7 482.5 L332.1 482.4 L332.5 482.4 L332.9 482.4 L333.3 482.4 L333.7 482.3 L334.1 482.3 L334.5 482.3 L334.9 482.4 L335.3 482.5 L335.7 482.5 L336.1 482.4 L336.5 482.3 L336.9 482.2 L337.3 482.2" fill="none" stroke="#484848" stroke-width="1.38" stroke-linejoin="round"/>
<text x="58.7" y="292.2" class="big" textLength="16.8" lengthAdjust="spacingAndGlyphs">B</text>
<text x="141.4" y="297.3" class="lb">3</text>
<text x="184.0" y="334.0" class="lb">3</text>
<text x="220.6" y="424.8" class="lb">3</text>
<text x="310.4" y="398.6" class="lb">2</text>
<text x="263.4" y="452.9" class="lb">2</text>
<text x="225.4" y="478.2" class="lb">2</text>
<text x="370.4" y="423.7" class="lb">120 minutes</text>
<text x="338.0" y="453.6" class="lb">60 minutes</text>
<text x="320.0" y="479.3" class="lb">30 minutes</text>
</g>
</svg>
</body></html>
